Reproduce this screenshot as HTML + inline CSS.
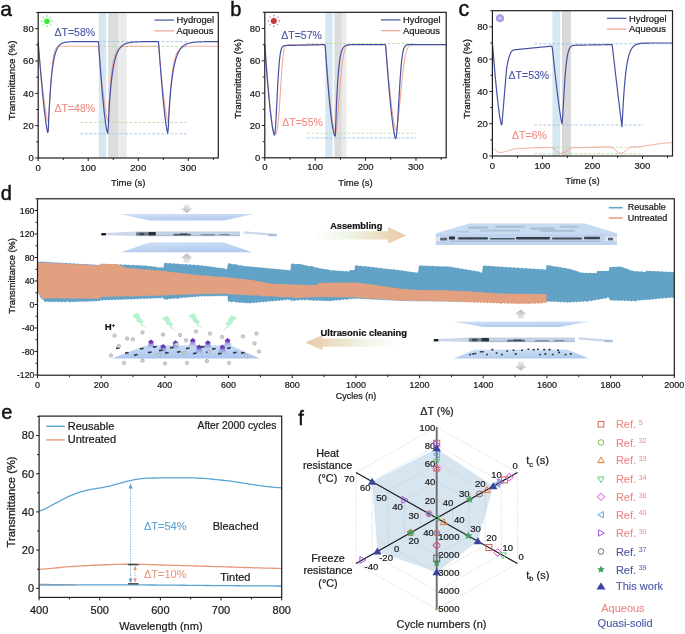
<!DOCTYPE html>
<html><head><meta charset="utf-8"><style>
html,body{margin:0;padding:0;background:#fff;}
svg{display:block;font-family:"Liberation Sans",sans-serif;will-change:transform;}
</style></head><body>
<svg width="685" height="634" viewBox="0 0 685 634">
<rect x="98.73" y="12.5" width="7.5" height="145.5" fill="#d5e7f1" />
<rect x="108.24" y="12.5" width="10.01" height="145.5" fill="#dcdcdc" />
<rect x="118.24" y="12.5" width="8.5" height="145.5" fill="#ebebeb" />
<line x1="98.73" y1="41.6" x2="188.28" y2="41.6" stroke="#9cc4e8" stroke-width="0.9" stroke-dasharray="2.8,1.7"/>
<line x1="98.73" y1="46.45" x2="188.28" y2="46.45" stroke="#b9dca4" stroke-width="0.9" stroke-dasharray="2.8,1.7"/>
<line x1="80.22" y1="122.43" x2="188.28" y2="122.43" stroke="#b9dca4" stroke-width="0.9" stroke-dasharray="2.8,1.7"/>
<line x1="80.22" y1="133.75" x2="188.28" y2="133.75" stroke="#9cc4e8" stroke-width="0.9" stroke-dasharray="2.8,1.7"/>
<polyline points="38.2,45.32 38.7,50.77 39.2,56.1 39.7,61.3 40.2,66.36 40.7,71.3 41.2,76.09 41.7,80.73 42.2,85.22 42.7,89.55 43.2,93.71 43.7,97.7 44.2,101.49 44.7,105.07 45.2,108.44 45.7,111.57 46.2,114.42 46.7,116.97 47.21,119.15 47.71,120.85 48.21,121.4 48.71,117.56 49.21,111.14 49.71,103.4 50.21,95.16 50.71,87.05 51.21,79.48 51.71,72.72 52.21,66.9 52.71,62.03 53.21,58.09 53.71,54.96 54.21,52.55 54.71,50.73 55.21,49.39 55.71,48.42 56.21,47.73 56.71,47.24 57.21,46.91 57.71,46.69 58.21,46.54 58.71,46.45 59.21,46.39 59.71,46.35 60.21,46.32 60.71,46.31 61.21,46.3 61.71,46.3 62.21,46.29 62.71,46.29 63.21,46.29 63.71,46.29 64.21,46.29 64.71,46.29 65.22,46.29 65.72,46.29 66.22,46.29 66.72,46.29 67.22,46.29 67.72,46.29 68.22,46.29 68.72,46.29 69.22,46.29 69.72,46.29 70.22,46.29 70.72,46.29 71.22,46.29 71.72,46.29 72.22,46.29 72.72,46.29 73.22,46.29 73.72,46.29 74.22,46.29 74.72,46.29 75.22,46.29 75.72,46.29 76.22,46.29 76.72,46.29 77.22,46.29 77.72,46.29 78.22,46.29 78.72,46.29 79.22,46.29 79.72,46.29 80.22,46.29 80.72,46.29 81.22,46.29 81.72,46.29 82.22,46.29 82.72,46.29 83.23,46.29 83.73,46.29 84.23,46.29 84.73,46.29 85.23,46.29 85.73,46.29 86.23,46.29 86.73,46.29 87.23,46.29 87.73,46.29 88.23,46.29 88.73,46.29 89.23,46.29 89.73,46.29 90.23,46.29 90.73,46.29 91.23,46.29 91.73,46.29 92.23,46.29 92.73,46.29 93.23,46.29 93.73,46.29 94.23,46.29 94.73,46.29 95.23,46.29 95.73,46.29 96.23,46.29 96.73,46.29 97.23,46.29 97.73,46.29 98.23,46.29 98.73,48.55 99.23,54.1 99.73,59.52 100.23,64.8 100.73,69.93 101.24,74.92 101.74,79.75 102.24,84.42 102.74,88.92 103.24,93.24 103.74,97.37 104.24,101.3 104.74,105.02 105.24,108.49 105.74,111.71 106.24,114.64 106.74,117.24 107.24,119.44 107.74,121.09 108.24,118.36 108.74,109.48 109.24,101.1 109.74,93.54 110.24,86.84 110.74,80.96 111.24,75.85 111.74,71.43 112.24,67.62 112.74,64.36 113.24,61.56 113.74,59.18 114.24,57.15 114.74,55.43 115.24,53.97 115.74,52.74 116.24,51.7 116.74,50.82 117.24,50.08 117.74,49.46 118.24,48.94 118.74,48.5 119.25,48.13 119.75,47.82 120.25,47.57 120.75,47.35 121.25,47.17 121.75,47.02 122.25,46.9 122.75,46.79 123.25,46.71 123.75,46.64 124.25,46.58 124.75,46.53 125.25,46.48 125.75,46.45 126.25,46.42 126.75,46.4 127.25,46.38 127.75,46.36 128.25,46.35 128.75,46.34 129.25,46.33 129.75,46.32 130.25,46.32 130.75,46.31 131.25,46.31 131.75,46.3 132.25,46.3 132.75,46.3 133.25,46.3 133.75,46.3 134.25,46.29 134.75,46.29 135.25,46.29 135.75,46.29 136.25,46.29 136.75,46.29 137.25,46.29 137.76,46.29 138.26,46.29 138.76,46.29 139.26,46.29 139.76,46.29 140.26,46.29 140.76,46.29 141.26,46.29 141.76,46.29 142.26,46.29 142.76,46.29 143.26,46.29 143.76,46.29 144.26,46.29 144.76,46.29 145.26,46.29 145.76,46.29 146.26,46.29 146.76,46.29 147.26,46.29 147.76,46.29 148.26,46.29 148.76,46.29 149.26,46.29 149.76,46.29 150.26,46.29 150.76,46.29 151.26,46.29 151.76,46.29 152.26,46.29 152.76,46.29 153.26,46.29 153.76,46.29 154.26,46.29 154.76,46.29 155.27,46.29 155.77,46.29 156.27,46.29 156.77,46.29 157.27,46.29 157.77,46.29 158.27,46.29 158.77,48.55 159.27,54.1 159.77,59.52 160.27,64.8 160.77,69.93 161.27,74.92 161.77,79.75 162.27,84.42 162.77,88.92 163.27,93.24 163.77,97.37 164.27,101.3 164.77,105.02 165.27,108.49 165.77,111.71 166.27,114.64 166.77,117.24 167.27,119.44 167.77,121.09 168.27,119.19 168.77,111.97 169.27,104.76 169.77,97.96 170.27,91.72 170.77,86.06 171.27,80.98 171.77,76.46 172.27,72.46 172.77,68.94 173.28,65.85 173.78,63.14 174.28,60.78 174.78,58.74 175.28,56.96 175.78,55.42 176.28,54.1 176.78,52.95 177.28,51.97 177.78,51.13 178.28,50.4 178.78,49.79 179.28,49.26 179.78,48.8 180.28,48.42 180.78,48.09 181.28,47.81 181.78,47.58 182.28,47.37 182.78,47.2 183.28,47.06 183.78,46.94 184.28,46.83 184.78,46.75 185.28,46.67 185.78,46.61 186.28,46.56 186.78,46.52 187.28,46.48 187.78,46.45 188.28,46.42 188.78,46.4 189.28,46.38 189.78,46.37 190.28,46.35 190.78,46.34 191.29,46.33 191.79,46.33 192.29,46.32 192.79,46.31 193.29,46.31 193.79,46.31 194.29,46.3 194.79,46.3 195.29,46.3 195.79,46.3 196.29,46.3 196.79,46.29 197.29,46.29 197.79,46.29 198.29,46.29 198.79,46.29 199.29,46.29 199.79,46.29 200.29,46.29 200.79,46.29 201.29,46.29 201.79,46.29 202.29,46.29 202.79,46.29 203.29,46.29 203.79,46.29 204.29,46.29 204.79,46.29 205.29,46.29 205.79,46.29 206.29,46.29 206.79,46.29 207.29,46.29 207.79,46.29 208.29,46.29 208.79,46.29 209.3,46.29 209.8,46.29 210.3,46.29 210.8,46.29 211.3,46.29 211.8,46.29 212.3,46.29 212.8,46.29 213.3,46.29 213.8,46.29 214.3,46.29 214.8,46.29 215.3,46.29 215.8,46.29 216.3,46.29 216.8,46.29 217.3,46.29 217.8,46.29 218.3,46.29" fill="none" stroke="#f2a08e" stroke-width="1.0" stroke-linejoin="round" />
<polyline points="38.2,41.92 38.7,48.35 39.2,54.64 39.7,60.79 40.2,66.8 40.7,72.66 41.2,78.36 41.7,83.89 42.2,89.26 42.7,94.45 43.2,99.45 43.7,104.24 44.2,108.83 44.7,113.18 45.2,117.29 45.7,121.12 46.2,124.64 46.7,127.81 47.21,130.55 47.71,132.72 48.21,131.15 48.71,119.23 49.21,108.9 49.71,99.94 50.21,92.17 50.71,85.44 51.21,79.6 51.71,74.55 52.21,70.16 52.71,66.36 53.21,63.06 53.71,60.2 54.21,57.73 54.71,55.58 55.21,53.72 55.71,52.11 56.21,50.71 56.71,49.5 57.21,48.44 57.71,47.53 58.21,46.74 58.71,46.06 59.21,45.47 59.71,44.95 60.21,44.5 60.71,44.12 61.21,43.78 61.71,43.49 62.21,43.24 62.71,43.02 63.21,42.83 63.71,42.67 64.21,42.53 64.71,42.4 65.22,42.3 65.72,42.2 66.22,42.12 66.72,42.05 67.22,41.99 67.72,41.94 68.22,41.9 68.72,41.86 69.22,41.82 69.72,41.79 70.22,41.77 70.72,41.74 71.22,41.73 71.72,41.71 72.22,41.69 72.72,41.68 73.22,41.67 73.72,41.66 74.22,41.65 74.72,41.65 75.22,41.64 75.72,41.63 76.22,41.63 76.72,41.63 77.22,41.62 77.72,41.62 78.22,41.62 78.72,41.61 79.22,41.61 79.72,41.61 80.22,41.61 80.72,41.61 81.22,41.61 81.72,41.61 82.22,41.61 82.72,41.6 83.23,41.6 83.73,41.6 84.23,41.6 84.73,41.6 85.23,41.6 85.73,41.6 86.23,41.6 86.73,41.6 87.23,41.6 87.73,41.6 88.23,41.6 88.73,41.6 89.23,41.6 89.73,41.6 90.23,41.6 90.73,41.6 91.23,41.6 91.73,41.6 92.23,41.6 92.73,41.6 93.23,41.6 93.73,41.6 94.23,41.6 94.73,41.6 95.23,41.6 95.73,41.6 96.23,41.6 96.73,41.6 97.23,41.6 97.73,41.6 98.23,41.6 98.73,44.68 99.23,52.22 99.73,59.51 100.23,66.53 100.73,73.29 101.24,79.78 101.74,85.99 102.24,91.91 102.74,97.53 103.24,102.84 103.74,107.83 104.24,112.48 104.74,116.78 105.24,120.7 105.74,124.22 106.24,127.31 106.74,129.93 107.24,131.99 107.74,133.38 108.24,127.74 108.74,116.42 109.24,107.3 109.74,99.6 110.24,92.99 110.74,87.27 111.24,82.26 111.74,77.88 112.24,74.01 112.74,70.6 113.24,67.57 113.74,64.89 114.24,62.5 114.74,60.38 115.24,58.48 115.74,56.79 116.24,55.27 116.74,53.92 117.24,52.7 117.74,51.61 118.24,50.64 118.74,49.76 119.25,48.97 119.75,48.26 120.25,47.62 120.75,47.05 121.25,46.53 121.75,46.06 122.25,45.64 122.75,45.26 123.25,44.91 123.75,44.6 124.25,44.32 124.75,44.07 125.25,43.84 125.75,43.63 126.25,43.45 126.75,43.28 127.25,43.12 127.75,42.98 128.25,42.86 128.75,42.74 129.25,42.64 129.75,42.54 130.25,42.46 130.75,42.38 131.25,42.31 131.75,42.25 132.25,42.19 132.75,42.14 133.25,42.09 133.75,42.04 134.25,42 134.75,41.97 135.25,41.94 135.75,41.91 136.25,41.88 136.75,41.85 137.25,41.83 137.76,41.81 138.26,41.79 138.76,41.78 139.26,41.76 139.76,41.75 140.26,41.73 140.76,41.72 141.26,41.71 141.76,41.7 142.26,41.69 142.76,41.68 143.26,41.68 143.76,41.67 144.26,41.66 144.76,41.66 145.26,41.65 145.76,41.65 146.26,41.65 146.76,41.64 147.26,41.64 147.76,41.63 148.26,41.63 148.76,41.63 149.26,41.63 149.76,41.62 150.26,41.62 150.76,41.62 151.26,41.62 151.76,41.62 152.26,41.62 152.76,41.61 153.26,41.61 153.76,41.61 154.26,41.61 154.76,41.61 155.27,41.61 155.77,41.61 156.27,41.61 156.77,41.61 157.27,41.61 157.77,41.61 158.27,41.61 158.77,44.49 159.27,51.6 159.77,58.5 160.27,65.19 160.77,71.68 161.27,77.94 161.77,83.99 162.27,89.79 162.77,95.35 163.27,100.65 163.77,105.69 164.27,110.44 164.77,114.88 165.27,119 165.77,122.77 166.27,126.15 166.77,129.09 167.27,131.5 167.77,133.23 168.27,128.22 168.77,117.71 169.27,109.15 169.77,101.85 170.27,95.52 170.77,89.98 171.27,85.09 171.77,80.77 172.27,76.92 172.77,73.49 173.28,70.42 173.78,67.68 174.28,65.21 174.78,63 175.28,61.01 175.78,59.21 176.28,57.59 176.78,56.13 177.28,54.81 177.78,53.62 178.28,52.54 178.78,51.56 179.28,50.67 179.78,49.87 180.28,49.13 180.78,48.47 181.28,47.87 181.78,47.32 182.28,46.82 182.78,46.37 183.28,45.96 183.78,45.58 184.28,45.24 184.78,44.93 185.28,44.64 185.78,44.38 186.28,44.15 186.78,43.93 187.28,43.73 187.78,43.55 188.28,43.39 188.78,43.24 189.28,43.1 189.78,42.98 190.28,42.86 190.78,42.76 191.29,42.66 191.79,42.57 192.29,42.49 192.79,42.42 193.29,42.35 193.79,42.29 194.29,42.23 194.79,42.18 195.29,42.13 195.79,42.09 196.29,42.05 196.79,42.01 197.29,41.98 197.79,41.95 198.29,41.92 198.79,41.89 199.29,41.87 199.79,41.85 200.29,41.83 200.79,41.81 201.29,41.79 201.79,41.78 202.29,41.76 202.79,41.75 203.29,41.74 203.79,41.73 204.29,41.72 204.79,41.71 205.29,41.7 205.79,41.69 206.29,41.68 206.79,41.68 207.29,41.67 207.79,41.67 208.29,41.66 208.79,41.66 209.3,41.65 209.8,41.65 210.3,41.64 210.8,41.64 211.3,41.64 211.8,41.63 212.3,41.63 212.8,41.63 213.3,41.63 213.8,41.62 214.3,41.62 214.8,41.62 215.3,41.62 215.8,41.62 216.3,41.62 216.8,41.62 217.3,41.61 217.8,41.61 218.3,41.61" fill="none" stroke="#4650a2" stroke-width="1.2" stroke-linejoin="round" />
<rect x="38.2" y="12.5" width="180.1" height="145.5" fill="none" stroke="#1f1f1f" stroke-width="1.2"/>
<line x1="35.2" y1="158" x2="38.2" y2="158" stroke="#1f1f1f" stroke-width="1" />
<text x="33.7" y="161.4" font-size="9.5" text-anchor="end" fill="#1a1a1a" stroke="#1a1a1a" stroke-width="0.22" >0</text>
<line x1="36.2" y1="141.83" x2="38.2" y2="141.83" stroke="#1f1f1f" stroke-width="1" />
<line x1="35.2" y1="125.67" x2="38.2" y2="125.67" stroke="#1f1f1f" stroke-width="1" />
<text x="33.7" y="129.07" font-size="9.5" text-anchor="end" fill="#1a1a1a" stroke="#1a1a1a" stroke-width="0.22" >20</text>
<line x1="36.2" y1="109.5" x2="38.2" y2="109.5" stroke="#1f1f1f" stroke-width="1" />
<line x1="35.2" y1="93.33" x2="38.2" y2="93.33" stroke="#1f1f1f" stroke-width="1" />
<text x="33.7" y="96.73" font-size="9.5" text-anchor="end" fill="#1a1a1a" stroke="#1a1a1a" stroke-width="0.22" >40</text>
<line x1="36.2" y1="77.17" x2="38.2" y2="77.17" stroke="#1f1f1f" stroke-width="1" />
<line x1="35.2" y1="61" x2="38.2" y2="61" stroke="#1f1f1f" stroke-width="1" />
<text x="33.7" y="64.4" font-size="9.5" text-anchor="end" fill="#1a1a1a" stroke="#1a1a1a" stroke-width="0.22" >60</text>
<line x1="36.2" y1="44.83" x2="38.2" y2="44.83" stroke="#1f1f1f" stroke-width="1" />
<line x1="35.2" y1="28.67" x2="38.2" y2="28.67" stroke="#1f1f1f" stroke-width="1" />
<text x="33.7" y="32.07" font-size="9.5" text-anchor="end" fill="#1a1a1a" stroke="#1a1a1a" stroke-width="0.22" >80</text>
<line x1="36.2" y1="12.5" x2="38.2" y2="12.5" stroke="#1f1f1f" stroke-width="1" />
<line x1="38.2" y1="158" x2="38.2" y2="161" stroke="#1f1f1f" stroke-width="1" />
<text x="38.2" y="170.6" font-size="9.5" text-anchor="middle" fill="#1a1a1a" stroke="#1a1a1a" stroke-width="0.22" >0</text>
<line x1="63.21" y1="158" x2="63.21" y2="160" stroke="#1f1f1f" stroke-width="1" />
<line x1="88.23" y1="158" x2="88.23" y2="161" stroke="#1f1f1f" stroke-width="1" />
<text x="88.23" y="170.6" font-size="9.5" text-anchor="middle" fill="#1a1a1a" stroke="#1a1a1a" stroke-width="0.22" >100</text>
<line x1="113.24" y1="158" x2="113.24" y2="160" stroke="#1f1f1f" stroke-width="1" />
<line x1="138.26" y1="158" x2="138.26" y2="161" stroke="#1f1f1f" stroke-width="1" />
<text x="138.26" y="170.6" font-size="9.5" text-anchor="middle" fill="#1a1a1a" stroke="#1a1a1a" stroke-width="0.22" >200</text>
<line x1="163.27" y1="158" x2="163.27" y2="160" stroke="#1f1f1f" stroke-width="1" />
<line x1="188.28" y1="158" x2="188.28" y2="161" stroke="#1f1f1f" stroke-width="1" />
<text x="188.28" y="170.6" font-size="9.5" text-anchor="middle" fill="#1a1a1a" stroke="#1a1a1a" stroke-width="0.22" >300</text>
<line x1="213.3" y1="158" x2="213.3" y2="160" stroke="#1f1f1f" stroke-width="1" />
<text x="128.25" y="185.7" font-size="9.5" text-anchor="middle" fill="#1a1a1a" stroke="#1a1a1a" stroke-width="0.22" >Time (s)</text>
<text transform="translate(14.7,80.4) rotate(-90)" font-size="9.8" text-anchor="middle" fill="#1f1f1f" stroke="#1f1f1f" stroke-width="0.3">Transmittance (%)</text>
<line x1="154.5" y1="20.1" x2="174" y2="20.1" stroke="#4650a2" stroke-width="1.2" />
<line x1="154.5" y1="30.9" x2="174" y2="30.9" stroke="#f2a08e" stroke-width="1.2" />
<text x="176.5" y="23.3" font-size="9.4" fill="#1a1a1a" stroke="#1a1a1a" stroke-width="0.22" >Hydrogel</text>
<text x="176.5" y="33.7" font-size="9.4" fill="#1a1a1a" stroke="#1a1a1a" stroke-width="0.22" >Aqueous</text>
<text x="54.5" y="36" font-size="10.5" fill="#4650a2" stroke="#4650a2" stroke-width="0.1" >ΔT=58%</text>
<text x="54.5" y="111.8" font-size="10.5" fill="#ee8c80" stroke="#ee8c80" stroke-width="0.1" >ΔT=48%</text>
<rect x="325.27" y="12.3" width="7.31" height="145.5" fill="#d5e7f1" />
<rect x="334.34" y="12.3" width="7.56" height="145.5" fill="#dcdcdc" />
<rect x="341.89" y="12.3" width="4.54" height="145.5" fill="#ebebeb" />
<line x1="307.13" y1="43.5" x2="415.97" y2="43.5" stroke="#b9dca4" stroke-width="0.9" stroke-dasharray="2.8,1.7"/>
<line x1="307.13" y1="133.23" x2="415.97" y2="133.23" stroke="#b9dca4" stroke-width="0.9" stroke-dasharray="2.8,1.7"/>
<line x1="307.13" y1="137.92" x2="415.97" y2="137.92" stroke="#9cc4e8" stroke-width="0.9" stroke-dasharray="2.8,1.7"/>
<polyline points="264.8,44.63 265.3,51.36 265.81,57.91 266.31,64.29 266.82,70.48 267.32,76.48 267.82,82.29 268.33,87.9 268.83,93.29 269.34,98.46 269.84,103.41 270.34,108.1 270.85,112.54 271.35,116.71 271.85,120.57 272.36,124.12 272.86,127.3 273.37,130.07 273.87,132.34 274.37,133.96 274.88,134.35 275.38,134.25 275.89,133.86 276.39,132.94 276.89,131.29 277.4,128.73 277.9,125.12 278.41,120.38 278.91,114.54 279.41,107.71 279.92,100.12 280.42,92.08 280.92,83.95 281.43,76.11 281.93,68.91 282.44,62.62 282.94,57.39 283.44,53.26 283.95,50.19 284.45,48.03 284.96,46.59 285.46,45.7 285.96,45.18 286.47,44.89 286.97,44.75 287.48,44.68 287.98,44.65 288.48,44.64 288.99,44.64 289.49,44.63 289.99,44.63 290.5,44.63 291,44.63 291.51,44.63 292.01,44.63 292.51,44.63 293.02,44.63 293.52,44.63 294.03,44.63 294.53,44.63 295.03,44.63 295.54,44.63 296.04,44.63 296.55,44.63 297.05,44.63 297.55,44.63 298.06,44.63 298.56,44.63 299.06,44.63 299.57,44.63 300.07,44.63 300.58,44.63 301.08,44.63 301.58,44.63 302.09,44.63 302.59,44.63 303.1,44.63 303.6,44.63 304.1,44.63 304.61,44.63 305.11,44.63 305.62,44.63 306.12,44.63 306.62,44.63 307.13,44.63 307.63,44.63 308.13,44.63 308.64,44.63 309.14,44.63 309.65,44.63 310.15,44.63 310.65,44.63 311.16,44.63 311.66,44.63 312.17,44.63 312.67,44.63 313.17,44.63 313.68,44.63 314.18,44.63 314.69,44.63 315.19,44.63 315.69,44.63 316.2,44.63 316.7,44.63 317.2,44.63 317.71,44.63 318.21,44.63 318.72,44.63 319.22,44.63 319.72,44.63 320.23,44.63 320.73,44.63 321.24,44.63 321.74,44.63 322.24,44.63 322.75,44.63 323.25,44.63 323.75,44.63 324.26,44.63 324.76,44.63 325.27,45.96 325.77,52.5 326.27,58.88 326.78,65.07 327.28,71.09 327.79,76.92 328.29,82.55 328.79,87.99 329.3,93.22 329.8,98.24 330.31,103.03 330.81,107.58 331.31,111.88 331.82,115.92 332.32,119.68 332.82,123.13 333.33,126.25 333.83,128.98 334.34,131.28 334.84,133.03 335.34,133.86 335.85,132.63 336.35,129.8 336.86,125.67 337.36,120.51 337.86,114.59 338.37,108.17 338.87,101.5 339.38,94.82 339.88,88.3 340.38,82.1 340.89,76.35 341.39,71.13 341.89,66.47 342.4,62.4 342.9,58.9 343.41,55.94 343.91,53.48 344.41,51.47 344.92,49.85 345.42,48.57 345.93,47.56 346.43,46.79 346.93,46.2 347.44,45.76 347.94,45.43 348.45,45.19 348.95,45.02 349.45,44.9 349.96,44.81 350.46,44.75 350.97,44.71 351.47,44.68 351.97,44.67 352.48,44.65 352.98,44.65 353.48,44.64 353.99,44.64 354.49,44.64 355,44.64 355.5,44.63 356,44.63 356.51,44.63 357.01,44.63 357.52,44.63 358.02,44.63 358.52,44.63 359.03,44.63 359.53,44.63 360.03,44.63 360.54,44.63 361.04,44.63 361.55,44.63 362.05,44.63 362.55,44.63 363.06,44.63 363.56,44.63 364.07,44.63 364.57,44.63 365.07,44.63 365.58,44.63 366.08,44.63 366.59,44.63 367.09,44.63 367.59,44.63 368.1,44.63 368.6,44.63 369.11,44.63 369.61,44.63 370.11,44.63 370.62,44.63 371.12,44.63 371.62,44.63 372.13,44.63 372.63,44.63 373.14,44.63 373.64,44.63 374.14,44.63 374.65,44.63 375.15,44.63 375.66,44.63 376.16,44.63 376.66,44.63 377.17,44.63 377.67,44.63 378.18,44.63 378.68,44.63 379.18,44.63 379.69,44.63 380.19,44.63 380.69,44.63 381.2,44.63 381.7,44.63 382.21,44.63 382.71,44.63 383.21,44.63 383.72,44.63 384.22,44.63 384.73,44.63 385.23,44.63 385.73,46.42 386.24,52.29 386.74,58.04 387.25,63.66 387.75,69.15 388.25,74.5 388.76,79.7 389.26,84.76 389.76,89.67 390.27,94.41 390.77,98.97 391.28,103.36 391.78,107.55 392.28,111.53 392.79,115.28 393.29,118.78 393.8,122 394.3,124.89 394.8,127.39 395.31,129.38 395.81,130.29 396.31,129.57 396.82,127.88 397.32,125.29 397.83,121.91 398.33,117.85 398.83,113.23 399.34,108.2 399.84,102.9 400.35,97.45 400.85,91.99 401.35,86.64 401.86,81.49 402.36,76.62 402.87,72.1 403.37,67.96 403.87,64.24 404.38,60.93 404.88,58.04 405.38,55.54 405.89,53.41 406.39,51.63 406.9,50.15 407.4,48.93 407.9,47.95 408.41,47.16 408.91,46.55 409.42,46.06 409.92,45.69 410.42,45.41 410.93,45.19 411.43,45.03 411.94,44.92 412.44,44.83 412.94,44.77 413.45,44.73 413.95,44.7 414.45,44.68 414.96,44.66 415.46,44.65 415.97,44.65 416.47,44.64 416.97,44.64 417.48,44.64 417.98,44.64 418.49,44.63 418.99,44.63 419.49,44.63 420,44.63 420.5,44.63 421.01,44.63 421.51,44.63 422.01,44.63 422.52,44.63 423.02,44.63 423.52,44.63 424.03,44.63 424.53,44.63 425.04,44.63 425.54,44.63 426.04,44.63 426.55,44.63 427.05,44.63 427.56,44.63 428.06,44.63 428.56,44.63 429.07,44.63 429.57,44.63 430.08,44.63 430.58,44.63 431.08,44.63 431.59,44.63 432.09,44.63 432.6,44.63 433.1,44.63 433.6,44.63 434.11,44.63 434.61,44.63 435.11,44.63 435.62,44.63 436.12,44.63 436.63,44.63 437.13,44.63 437.63,44.63 438.14,44.63 438.64,44.63 439.15,44.63 439.65,44.63 440.15,44.63 440.66,44.63 441.16,44.63 441.66,44.63 442.17,44.63 442.67,44.63 443.18,44.63 443.68,44.63 444.18,44.63 444.69,44.63 445.19,44.63 445.7,44.63 446.2,44.63" fill="none" stroke="#f2a08e" stroke-width="1.0" stroke-linejoin="round" />
<polyline points="264.8,44.8 265.3,52.09 265.81,59.17 266.31,66 266.82,72.6 267.32,78.96 267.82,85.06 268.33,90.9 268.83,96.47 269.34,101.76 269.84,106.76 270.34,111.46 270.85,115.84 271.35,119.89 271.85,123.58 272.36,126.89 272.86,129.77 273.37,132.19 273.87,134.05 274.37,135.2 274.88,134.08 275.38,129.1 275.89,121.41 276.39,112.01 276.89,101.83 277.4,91.68 277.9,82.18 278.41,73.75 278.91,66.63 279.41,60.84 279.92,56.34 280.42,52.95 280.92,50.48 281.43,48.75 281.93,47.58 282.44,46.8 282.94,46.3 283.44,45.98 283.95,45.79 284.45,45.67 284.96,45.6 285.46,45.56 285.96,45.53 286.47,45.51 286.97,45.49 287.48,45.48 287.98,45.47 288.48,45.45 288.99,45.44 289.49,45.43 289.99,45.42 290.5,45.41 291,45.4 291.51,45.39 292.01,45.38 292.51,45.36 293.02,45.35 293.52,45.34 294.03,45.33 294.53,45.32 295.03,45.31 295.54,45.3 296.04,45.29 296.55,45.27 297.05,45.26 297.55,45.25 298.06,45.24 298.56,45.23 299.06,45.22 299.57,45.21 300.07,45.2 300.58,45.18 301.08,45.17 301.58,45.16 302.09,45.15 302.59,45.14 303.1,45.13 303.6,45.12 304.1,45.11 304.61,45.09 305.11,45.08 305.62,45.07 306.12,45.06 306.62,45.05 307.13,45.04 307.63,45.03 308.13,45.02 308.64,45 309.14,44.99 309.65,44.98 310.15,44.97 310.65,44.96 311.16,44.95 311.66,44.94 312.17,44.93 312.67,44.91 313.17,44.9 313.68,44.89 314.18,44.88 314.69,44.87 315.19,44.86 315.69,44.85 316.2,44.84 316.7,44.82 317.2,44.81 317.71,44.8 318.21,44.79 318.72,44.78 319.22,44.77 319.72,44.76 320.23,44.75 320.73,44.73 321.24,44.72 321.74,44.71 322.24,44.7 322.75,44.69 323.25,44.68 323.75,44.67 324.26,44.66 324.76,44.64 325.27,46.21 325.77,53.93 326.27,61.35 326.78,68.47 327.28,75.3 327.79,81.82 328.29,88.02 328.79,93.91 329.3,99.48 329.8,104.71 330.31,109.6 330.81,114.15 331.31,118.34 331.82,122.15 332.32,125.59 332.82,128.62 333.33,131.23 333.83,133.39 334.34,135.07 334.84,136.2 335.34,135.44 335.85,121.38 336.35,108.25 336.86,96.86 337.36,87.23 337.86,79.2 338.37,72.56 338.87,67.12 339.38,62.69 339.88,59.09 340.38,56.18 340.89,53.83 341.39,51.95 341.89,50.44 342.4,49.23 342.9,48.27 343.41,47.51 343.91,46.9 344.41,46.42 344.92,46.04 345.42,45.73 345.93,45.5 346.43,45.31 346.93,45.16 347.44,45.05 347.94,44.96 348.45,44.89 348.95,44.83 349.45,44.79 349.96,44.75 350.46,44.73 350.97,44.71 351.47,44.69 351.97,44.68 352.48,44.67 352.98,44.66 353.48,44.65 353.99,44.65 354.49,44.65 355,44.64 355.5,44.64 356,44.64 356.51,44.64 357.01,44.64 357.52,44.64 358.02,44.64 358.52,44.63 359.03,44.63 359.53,44.63 360.03,44.63 360.54,44.63 361.04,44.63 361.55,44.63 362.05,44.63 362.55,44.63 363.06,44.63 363.56,44.63 364.07,44.63 364.57,44.63 365.07,44.63 365.58,44.63 366.08,44.63 366.59,44.63 367.09,44.63 367.59,44.63 368.1,44.63 368.6,44.63 369.11,44.63 369.61,44.63 370.11,44.63 370.62,44.63 371.12,44.63 371.62,44.63 372.13,44.63 372.63,44.63 373.14,44.63 373.64,44.63 374.14,44.63 374.65,44.63 375.15,44.63 375.66,44.63 376.16,44.63 376.66,44.63 377.17,44.63 377.67,44.63 378.18,44.63 378.68,44.63 379.18,44.63 379.69,44.63 380.19,44.63 380.69,44.63 381.2,44.63 381.7,44.63 382.21,44.63 382.71,44.63 383.21,44.63 383.72,44.63 384.22,44.63 384.73,44.63 385.23,44.63 385.73,46.73 386.24,53.61 386.74,60.31 387.25,66.83 387.75,73.15 388.25,79.27 388.76,85.2 389.26,90.91 389.76,96.4 390.27,101.67 390.77,106.69 391.28,111.47 391.78,115.98 392.28,120.21 392.79,124.14 393.29,127.74 393.8,130.99 394.3,133.83 394.8,136.2 395.31,137.98 395.81,138.65 396.31,136.61 396.82,132.21 397.32,125.92 397.83,118.26 398.33,109.75 398.83,100.9 399.34,92.16 399.84,83.88 400.35,76.33 400.85,69.67 401.35,63.99 401.86,59.28 402.36,55.48 402.87,52.5 403.37,50.21 403.87,48.51 404.38,47.28 404.88,46.4 405.38,45.78 405.89,45.37 406.39,45.1 406.9,44.92 407.4,44.8 407.9,44.73 408.41,44.69 408.91,44.67 409.42,44.65 409.92,44.64 410.42,44.64 410.93,44.64 411.43,44.63 411.94,44.63 412.44,44.63 412.94,44.63 413.45,44.63 413.95,44.63 414.45,44.63 414.96,44.63 415.46,44.63 415.97,44.63 416.47,44.63 416.97,44.63 417.48,44.63 417.98,44.63 418.49,44.63 418.99,44.63 419.49,44.63 420,44.63 420.5,44.63 421.01,44.63 421.51,44.63 422.01,44.63 422.52,44.63 423.02,44.63 423.52,44.63 424.03,44.63 424.53,44.63 425.04,44.63 425.54,44.63 426.04,44.63 426.55,44.63 427.05,44.63 427.56,44.63 428.06,44.63 428.56,44.63 429.07,44.63 429.57,44.63 430.08,44.63 430.58,44.63 431.08,44.63 431.59,44.63 432.09,44.63 432.6,44.63 433.1,44.63 433.6,44.63 434.11,44.63 434.61,44.63 435.11,44.63 435.62,44.63 436.12,44.63 436.63,44.63 437.13,44.63 437.63,44.63 438.14,44.63 438.64,44.63 439.15,44.63 439.65,44.63 440.15,44.63 440.66,44.63 441.16,44.63 441.66,44.63 442.17,44.63 442.67,44.63 443.18,44.63 443.68,44.63 444.18,44.63 444.69,44.63 445.19,44.63 445.7,44.63 446.2,44.63" fill="none" stroke="#4650a2" stroke-width="1.2" stroke-linejoin="round" />
<rect x="264.8" y="12.3" width="181.4" height="145.5" fill="none" stroke="#1f1f1f" stroke-width="1.2"/>
<line x1="261.8" y1="157.8" x2="264.8" y2="157.8" stroke="#1f1f1f" stroke-width="1" />
<text x="260.3" y="161.2" font-size="9.5" text-anchor="end" fill="#1a1a1a" stroke="#1a1a1a" stroke-width="0.22" >0</text>
<line x1="262.8" y1="141.63" x2="264.8" y2="141.63" stroke="#1f1f1f" stroke-width="1" />
<line x1="261.8" y1="125.47" x2="264.8" y2="125.47" stroke="#1f1f1f" stroke-width="1" />
<text x="260.3" y="128.87" font-size="9.5" text-anchor="end" fill="#1a1a1a" stroke="#1a1a1a" stroke-width="0.22" >20</text>
<line x1="262.8" y1="109.3" x2="264.8" y2="109.3" stroke="#1f1f1f" stroke-width="1" />
<line x1="261.8" y1="93.13" x2="264.8" y2="93.13" stroke="#1f1f1f" stroke-width="1" />
<text x="260.3" y="96.53" font-size="9.5" text-anchor="end" fill="#1a1a1a" stroke="#1a1a1a" stroke-width="0.22" >40</text>
<line x1="262.8" y1="76.97" x2="264.8" y2="76.97" stroke="#1f1f1f" stroke-width="1" />
<line x1="261.8" y1="60.8" x2="264.8" y2="60.8" stroke="#1f1f1f" stroke-width="1" />
<text x="260.3" y="64.2" font-size="9.5" text-anchor="end" fill="#1a1a1a" stroke="#1a1a1a" stroke-width="0.22" >60</text>
<line x1="262.8" y1="44.63" x2="264.8" y2="44.63" stroke="#1f1f1f" stroke-width="1" />
<line x1="261.8" y1="28.47" x2="264.8" y2="28.47" stroke="#1f1f1f" stroke-width="1" />
<text x="260.3" y="31.87" font-size="9.5" text-anchor="end" fill="#1a1a1a" stroke="#1a1a1a" stroke-width="0.22" >80</text>
<line x1="262.8" y1="12.3" x2="264.8" y2="12.3" stroke="#1f1f1f" stroke-width="1" />
<line x1="264.8" y1="157.8" x2="264.8" y2="160.8" stroke="#1f1f1f" stroke-width="1" />
<text x="264.8" y="170.4" font-size="9.5" text-anchor="middle" fill="#1a1a1a" stroke="#1a1a1a" stroke-width="0.22" >0</text>
<line x1="289.99" y1="157.8" x2="289.99" y2="159.8" stroke="#1f1f1f" stroke-width="1" />
<line x1="315.19" y1="157.8" x2="315.19" y2="160.8" stroke="#1f1f1f" stroke-width="1" />
<text x="315.19" y="170.4" font-size="9.5" text-anchor="middle" fill="#1a1a1a" stroke="#1a1a1a" stroke-width="0.22" >100</text>
<line x1="340.38" y1="157.8" x2="340.38" y2="159.8" stroke="#1f1f1f" stroke-width="1" />
<line x1="365.58" y1="157.8" x2="365.58" y2="160.8" stroke="#1f1f1f" stroke-width="1" />
<text x="365.58" y="170.4" font-size="9.5" text-anchor="middle" fill="#1a1a1a" stroke="#1a1a1a" stroke-width="0.22" >200</text>
<line x1="390.77" y1="157.8" x2="390.77" y2="159.8" stroke="#1f1f1f" stroke-width="1" />
<line x1="415.97" y1="157.8" x2="415.97" y2="160.8" stroke="#1f1f1f" stroke-width="1" />
<text x="415.97" y="170.4" font-size="9.5" text-anchor="middle" fill="#1a1a1a" stroke="#1a1a1a" stroke-width="0.22" >300</text>
<line x1="441.16" y1="157.8" x2="441.16" y2="159.8" stroke="#1f1f1f" stroke-width="1" />
<text x="355.5" y="185.5" font-size="9.5" text-anchor="middle" fill="#1a1a1a" stroke="#1a1a1a" stroke-width="0.22" >Time (s)</text>
<text transform="translate(241.3,78.9) rotate(-90)" font-size="9.8" text-anchor="middle" fill="#1f1f1f" stroke="#1f1f1f" stroke-width="0.3">Transmittance (%)</text>
<line x1="381" y1="19.9" x2="400.5" y2="19.9" stroke="#4650a2" stroke-width="1.2" />
<line x1="381" y1="30.7" x2="400.5" y2="30.7" stroke="#f2a08e" stroke-width="1.2" />
<text x="403" y="23.1" font-size="9.4" fill="#1a1a1a" stroke="#1a1a1a" stroke-width="0.22" >Hydrogel</text>
<text x="403" y="33.5" font-size="9.4" fill="#1a1a1a" stroke="#1a1a1a" stroke-width="0.22" >Aqueous</text>
<text x="281.3" y="38.6" font-size="10.5" fill="#4650a2" stroke="#4650a2" stroke-width="0.1" >ΔT=57%</text>
<text x="282.3" y="126" font-size="10.5" fill="#ee8c80" stroke="#ee8c80" stroke-width="0.1" >ΔT=55%</text>
<rect x="552.43" y="10.7" width="7.75" height="145.3" fill="#d5e7f1" />
<rect x="561.94" y="10.7" width="9" height="145.3" fill="#d9d9d9" />
<line x1="534.42" y1="43.8" x2="672.5" y2="43.8" stroke="#9cc4e8" stroke-width="0.9" stroke-dasharray="2.8,1.7"/>
<line x1="534.42" y1="125" x2="642.98" y2="125" stroke="#9cc4e8" stroke-width="0.9" stroke-dasharray="2.8,1.7"/>
<line x1="534.42" y1="147.28" x2="642.98" y2="147.28" stroke="#b9dca4" stroke-width="0.9" stroke-dasharray="2.8,1.7"/>
<line x1="534.42" y1="153.74" x2="642.98" y2="153.74" stroke="#b9dca4" stroke-width="0.9" stroke-dasharray="2.8,1.7"/>
<polyline points="492.4,148.57 492.9,148.62 493.4,148.75 493.9,148.96 494.4,149.25 494.9,149.59 495.4,149.98 495.9,150.39 496.4,150.8 496.9,151.2 497.4,151.57 497.9,151.9 498.4,152.15 498.9,152.33 499.4,152.43 499.9,152.45 500.4,152.43 500.9,152.41 501.4,152.37 501.91,152.31 502.41,152.24 502.91,152.16 503.41,152.07 503.91,151.96 504.41,151.84 504.91,151.72 505.41,151.58 505.91,151.44 506.41,151.29 506.91,151.13 507.41,150.97 507.91,150.81 508.41,150.64 508.91,150.48 509.41,150.31 509.91,150.15 510.41,149.98 510.91,149.82 511.41,149.67 511.91,149.52 512.41,149.38 512.91,149.25 513.41,149.13 513.91,149.02 514.41,148.92 514.91,148.83 515.41,148.75 515.91,148.69 516.41,148.64 516.91,148.6 517.41,148.58 517.91,148.57 518.41,148.57 518.91,148.57 519.41,148.56 519.92,148.54 520.42,148.53 520.92,148.51 521.42,148.49 521.92,148.46 522.42,148.43 522.92,148.4 523.42,148.37 523.92,148.34 524.42,148.3 524.92,148.27 525.42,148.23 525.92,148.19 526.42,148.15 526.92,148.11 527.42,148.07 527.92,148.04 528.42,148 528.92,147.97 529.42,147.94 529.92,147.91 530.42,147.88 530.92,147.85 531.42,147.83 531.92,147.81 532.42,147.8 532.92,147.78 533.42,147.77 533.92,147.77 534.42,147.77 534.92,147.77 535.42,147.76 535.92,147.76 536.42,147.76 536.92,147.76 537.42,147.75 537.93,147.75 538.43,147.75 538.93,147.74 539.43,147.73 539.93,147.73 540.43,147.72 540.93,147.71 541.43,147.71 541.93,147.7 542.43,147.69 542.93,147.69 543.43,147.68 543.93,147.67 544.43,147.66 544.93,147.66 545.43,147.65 545.93,147.64 546.43,147.64 546.93,147.63 547.43,147.63 547.93,147.62 548.43,147.62 548.93,147.61 549.43,147.61 549.93,147.61 550.43,147.61 550.93,147.61 551.43,147.6 551.93,147.64 552.43,147.76 552.93,147.95 553.43,148.2 553.93,148.52 554.43,148.88 554.93,149.3 555.43,149.74 555.94,150.2 556.44,150.66 556.94,151.12 557.44,151.57 557.94,151.98 558.44,152.34 558.94,152.66 559.44,152.91 559.94,153.1 560.44,153.22 560.94,153.26 561.44,153.23 561.94,153.17 562.44,153.06 562.94,152.92 563.44,152.73 563.94,152.51 564.44,152.26 564.94,151.98 565.44,151.68 565.94,151.36 566.44,151.03 566.94,150.68 567.44,150.34 567.94,150 568.44,149.66 568.94,149.34 569.44,149.04 569.94,148.76 570.44,148.51 570.94,148.29 571.44,148.11 571.94,147.96 572.44,147.85 572.94,147.79 573.44,147.77 573.95,147.77 574.45,147.76 574.95,147.76 575.45,147.76 575.95,147.76 576.45,147.75 576.95,147.75 577.45,147.74 577.95,147.74 578.45,147.73 578.95,147.72 579.45,147.71 579.95,147.7 580.45,147.7 580.95,147.69 581.45,147.67 581.95,147.66 582.45,147.65 582.95,147.64 583.45,147.63 583.95,147.61 584.45,147.6 584.95,147.58 585.45,147.57 585.95,147.55 586.45,147.54 586.95,147.52 587.45,147.51 587.95,147.49 588.45,147.47 588.95,147.46 589.45,147.44 589.95,147.42 590.45,147.41 590.95,147.39 591.45,147.37 591.96,147.35 592.46,147.34 592.96,147.32 593.46,147.3 593.96,147.29 594.46,147.27 594.96,147.25 595.46,147.23 595.96,147.22 596.46,147.2 596.96,147.19 597.46,147.17 597.96,147.16 598.46,147.14 598.96,147.13 599.46,147.11 599.96,147.1 600.46,147.09 600.96,147.07 601.46,147.06 601.96,147.05 602.46,147.04 602.96,147.03 603.46,147.02 603.96,147.01 604.46,147 604.96,147 605.46,146.99 605.96,146.98 606.46,146.98 606.96,146.97 607.46,146.97 607.96,146.97 608.46,146.96 608.96,146.96 609.47,146.96 609.97,146.96 610.47,146.99 610.97,147.09 611.47,147.24 611.97,147.46 612.47,147.73 612.97,148.05 613.47,148.41 613.97,148.8 614.47,149.22 614.97,149.66 615.47,150.11 615.97,150.56 616.47,150.99 616.97,151.42 617.47,151.81 617.97,152.17 618.47,152.49 618.97,152.76 619.47,152.97 619.97,153.13 620.47,153.22 620.97,153.26 621.47,153.22 621.97,153.13 622.47,152.97 622.97,152.76 623.47,152.49 623.97,152.17 624.47,151.81 624.97,151.42 625.47,150.99 625.97,150.56 626.47,150.11 626.97,149.66 627.48,149.22 627.98,148.8 628.48,148.41 628.98,148.05 629.48,147.73 629.98,147.46 630.48,147.24 630.98,147.09 631.48,146.99 631.98,146.96 632.48,146.96 632.98,146.95 633.48,146.94 633.98,146.93 634.48,146.92 634.98,146.9 635.48,146.88 635.98,146.86 636.48,146.83 636.98,146.8 637.48,146.77 637.98,146.74 638.48,146.7 638.98,146.66 639.48,146.61 639.98,146.57 640.48,146.52 640.98,146.47 641.48,146.41 641.98,146.36 642.48,146.3 642.98,146.24 643.48,146.18 643.98,146.11 644.48,146.05 644.98,145.98 645.49,145.91 645.99,145.84 646.49,145.77 646.99,145.69 647.49,145.62 647.99,145.54 648.49,145.46 648.99,145.38 649.49,145.3 649.99,145.22 650.49,145.14 650.99,145.06 651.49,144.98 651.99,144.9 652.49,144.82 652.99,144.74 653.49,144.66 653.99,144.58 654.49,144.5 654.99,144.42 655.49,144.34 655.99,144.26 656.49,144.18 656.99,144.1 657.49,144.03 657.99,143.95 658.49,143.88 658.99,143.81 659.49,143.74 659.99,143.67 660.49,143.61 660.99,143.54 661.49,143.48 661.99,143.42 662.49,143.36 662.99,143.31 663.5,143.25 664,143.2 664.5,143.15 665,143.11 665.5,143.06 666,143.02 666.5,142.98 667,142.95 667.5,142.92 668,142.89 668.5,142.86 669,142.84 669.5,142.82 670,142.8 670.5,142.79 671,142.78 671.5,142.77 672,142.76 672.5,142.76" fill="none" stroke="#f2a08e" stroke-width="1.0" stroke-linejoin="round" />
<polyline points="492.4,42.18 492.9,48.58 493.4,54.82 493.9,60.89 494.4,66.79 494.9,72.5 495.4,78.03 495.9,83.36 496.4,88.49 496.9,93.41 497.4,98.09 497.9,102.54 498.4,106.74 498.9,110.66 499.4,114.28 499.9,117.56 500.4,120.47 500.9,122.93 501.4,124.82 501.91,124.45 502.41,118.46 502.91,112.48 503.41,106.49 503.91,100.5 504.41,94.52 504.91,88.53 505.41,82.54 505.91,76.56 506.41,70.57 506.91,66.49 507.41,63.91 507.91,61.59 508.41,59.52 508.91,57.69 509.41,56.08 509.91,54.7 510.41,53.52 510.91,52.53 511.41,51.72 511.91,51.08 512.41,50.58 512.91,50.22 513.41,49.98 513.91,49.84 514.41,49.78 514.91,49.77 515.41,49.72 515.91,49.67 516.41,49.62 516.91,49.57 517.41,49.52 517.91,49.47 518.41,49.42 518.91,49.37 519.41,49.32 519.92,49.27 520.42,49.22 520.92,49.17 521.42,49.12 521.92,49.07 522.42,49.02 522.92,48.97 523.42,48.92 523.92,48.87 524.42,48.82 524.92,48.77 525.42,48.72 525.92,48.67 526.42,48.62 526.92,48.57 527.42,48.52 527.92,48.47 528.42,48.42 528.92,48.37 529.42,48.32 529.92,48.27 530.42,48.22 530.92,48.17 531.42,48.12 531.92,48.07 532.42,48.02 532.92,47.97 533.42,47.92 533.92,47.87 534.42,47.82 534.92,47.77 535.42,47.72 535.92,47.67 536.42,47.62 536.92,47.57 537.42,47.52 537.93,47.47 538.43,47.42 538.93,47.37 539.43,47.32 539.93,47.27 540.43,47.22 540.93,47.17 541.43,47.12 541.93,47.07 542.43,47.02 542.93,46.97 543.43,46.92 543.93,46.87 544.43,46.82 544.93,46.78 545.43,46.73 545.93,46.68 546.43,46.63 546.93,46.58 547.43,46.53 547.93,46.48 548.43,46.43 548.93,46.38 549.43,46.33 549.93,46.28 550.43,46.23 550.93,46.18 551.43,46.13 551.93,46.08 552.43,48.95 552.93,53.73 553.43,58.45 553.93,63.11 554.43,67.7 554.93,72.23 555.43,76.68 555.94,81.05 556.44,85.34 556.94,89.55 557.44,93.66 557.94,97.67 558.44,101.56 558.94,105.34 559.44,108.98 559.94,112.46 560.44,115.75 560.94,118.81 561.44,121.55 561.94,123.76 562.44,119.96 562.94,112.03 563.44,103.21 563.94,94.46 564.44,86.27 564.94,78.9 565.44,72.47 565.94,66.99 566.44,62.41 566.94,58.65 567.44,55.6 567.94,53.17 568.44,51.26 568.94,49.77 569.44,48.62 569.94,47.74 570.44,47.07 570.94,46.58 571.44,46.2 571.94,45.93 572.44,45.73 572.94,45.58 573.44,45.47 573.95,45.39 574.45,45.33 574.95,45.28 575.45,45.25 575.95,45.22 576.45,45.2 576.95,45.19 577.45,45.17 577.95,45.16 578.45,45.15 578.95,45.14 579.45,45.13 579.95,45.12 580.45,45.12 580.95,45.11 581.45,45.1 581.95,45.09 582.45,45.08 582.95,45.07 583.45,45.07 583.95,45.06 584.45,45.05 584.95,45.04 585.45,45.03 585.95,45.03 586.45,45.02 586.95,45.01 587.45,45 587.95,44.99 588.45,44.99 588.95,44.98 589.45,44.97 589.95,44.96 590.45,44.95 590.95,44.94 591.45,44.94 591.96,44.93 592.46,44.92 592.96,44.91 593.46,44.9 593.96,44.9 594.46,44.89 594.96,44.88 595.46,44.87 595.96,44.86 596.46,44.86 596.96,44.85 597.46,44.84 597.96,44.83 598.46,44.82 598.96,44.82 599.46,44.81 599.96,44.8 600.46,44.79 600.96,44.78 601.46,44.78 601.96,44.77 602.46,44.76 602.96,44.75 603.46,44.74 603.96,44.74 604.46,44.73 604.96,44.72 605.46,44.71 605.96,44.7 606.46,44.7 606.96,44.69 607.46,44.68 607.96,44.67 608.46,44.66 608.96,44.65 609.47,44.65 609.97,44.64 610.47,44.63 610.97,44.62 611.47,44.61 611.97,44.61 612.47,47.23 612.97,51.6 613.47,55.96 613.97,60.31 614.47,64.64 614.97,68.96 615.47,73.26 615.97,77.55 616.47,81.82 616.97,86.07 617.47,90.3 617.97,94.51 618.47,98.69 618.97,102.84 619.47,106.96 619.97,111.04 620.47,115.07 620.97,119.03 621.47,122.91 621.97,126.6 622.47,118.28 622.97,108.39 623.47,99.8 623.97,92.34 624.47,85.85 624.97,80.22 625.47,75.33 625.97,71.08 626.47,67.39 626.97,64.18 627.48,61.4 627.98,58.98 628.48,56.88 628.98,55.06 629.48,53.47 629.98,52.09 630.48,50.9 630.98,49.86 631.48,48.96 631.98,48.17 632.48,47.49 632.98,46.9 633.48,46.39 633.98,45.94 634.48,45.55 634.98,45.22 635.48,44.92 635.98,44.67 636.48,44.45 636.98,44.26 637.48,44.09 637.98,43.95 638.48,43.82 638.98,43.71 639.48,43.62 639.98,43.53 640.48,43.46 640.98,43.4 641.48,43.35 641.98,43.3 642.48,43.26 642.98,43.22 643.48,43.19 643.98,43.17 644.48,43.14 644.98,43.12 645.49,43.1 645.99,43.09 646.49,43.08 646.99,43.06 647.49,43.05 647.99,43.05 648.49,43.04 648.99,43.03 649.49,43.03 649.99,43.02 650.49,43.02 650.99,43.01 651.49,43.01 651.99,43.01 652.49,43 652.99,43 653.49,43 653.99,43 654.49,43 654.99,43 655.49,43 655.99,42.99 656.49,42.99 656.99,42.99 657.49,42.99 657.99,42.99 658.49,42.99 658.99,42.99 659.49,42.99 659.99,42.99 660.49,42.99 660.99,42.99 661.49,42.99 661.99,42.99 662.49,42.99 662.99,42.99 663.5,42.99 664,42.99 664.5,42.99 665,42.99 665.5,42.99 666,42.99 666.5,42.99 667,42.99 667.5,42.99 668,42.99 668.5,42.99 669,42.99 669.5,42.99 670,42.99 670.5,42.99 671,42.99 671.5,42.99 672,42.99 672.5,42.99" fill="none" stroke="#4650a2" stroke-width="1.2" stroke-linejoin="round" />
<rect x="492.4" y="10.7" width="180.1" height="145.3" fill="none" stroke="#1f1f1f" stroke-width="1.2"/>
<line x1="489.4" y1="156" x2="492.4" y2="156" stroke="#1f1f1f" stroke-width="1" />
<text x="487.9" y="159.4" font-size="9.5" text-anchor="end" fill="#1a1a1a" stroke="#1a1a1a" stroke-width="0.22" >0</text>
<line x1="490.4" y1="139.86" x2="492.4" y2="139.86" stroke="#1f1f1f" stroke-width="1" />
<line x1="489.4" y1="123.71" x2="492.4" y2="123.71" stroke="#1f1f1f" stroke-width="1" />
<text x="487.9" y="127.11" font-size="9.5" text-anchor="end" fill="#1a1a1a" stroke="#1a1a1a" stroke-width="0.22" >20</text>
<line x1="490.4" y1="107.57" x2="492.4" y2="107.57" stroke="#1f1f1f" stroke-width="1" />
<line x1="489.4" y1="91.42" x2="492.4" y2="91.42" stroke="#1f1f1f" stroke-width="1" />
<text x="487.9" y="94.82" font-size="9.5" text-anchor="end" fill="#1a1a1a" stroke="#1a1a1a" stroke-width="0.22" >40</text>
<line x1="490.4" y1="75.28" x2="492.4" y2="75.28" stroke="#1f1f1f" stroke-width="1" />
<line x1="489.4" y1="59.13" x2="492.4" y2="59.13" stroke="#1f1f1f" stroke-width="1" />
<text x="487.9" y="62.53" font-size="9.5" text-anchor="end" fill="#1a1a1a" stroke="#1a1a1a" stroke-width="0.22" >60</text>
<line x1="490.4" y1="42.99" x2="492.4" y2="42.99" stroke="#1f1f1f" stroke-width="1" />
<line x1="489.4" y1="26.84" x2="492.4" y2="26.84" stroke="#1f1f1f" stroke-width="1" />
<text x="487.9" y="30.24" font-size="9.5" text-anchor="end" fill="#1a1a1a" stroke="#1a1a1a" stroke-width="0.22" >80</text>
<line x1="490.4" y1="10.7" x2="492.4" y2="10.7" stroke="#1f1f1f" stroke-width="1" />
<line x1="492.4" y1="156" x2="492.4" y2="159" stroke="#1f1f1f" stroke-width="1" />
<text x="492.4" y="168.6" font-size="9.5" text-anchor="middle" fill="#1a1a1a" stroke="#1a1a1a" stroke-width="0.22" >0</text>
<line x1="517.41" y1="156" x2="517.41" y2="158" stroke="#1f1f1f" stroke-width="1" />
<line x1="542.43" y1="156" x2="542.43" y2="159" stroke="#1f1f1f" stroke-width="1" />
<text x="542.43" y="168.6" font-size="9.5" text-anchor="middle" fill="#1a1a1a" stroke="#1a1a1a" stroke-width="0.22" >100</text>
<line x1="567.44" y1="156" x2="567.44" y2="158" stroke="#1f1f1f" stroke-width="1" />
<line x1="592.46" y1="156" x2="592.46" y2="159" stroke="#1f1f1f" stroke-width="1" />
<text x="592.46" y="168.6" font-size="9.5" text-anchor="middle" fill="#1a1a1a" stroke="#1a1a1a" stroke-width="0.22" >200</text>
<line x1="617.47" y1="156" x2="617.47" y2="158" stroke="#1f1f1f" stroke-width="1" />
<line x1="642.48" y1="156" x2="642.48" y2="159" stroke="#1f1f1f" stroke-width="1" />
<text x="642.48" y="168.6" font-size="9.5" text-anchor="middle" fill="#1a1a1a" stroke="#1a1a1a" stroke-width="0.22" >300</text>
<line x1="667.5" y1="156" x2="667.5" y2="158" stroke="#1f1f1f" stroke-width="1" />
<text x="582.45" y="183.7" font-size="9.5" text-anchor="middle" fill="#1a1a1a" stroke="#1a1a1a" stroke-width="0.22" >Time (s)</text>
<text transform="translate(469.9,78.9) rotate(-90)" font-size="9.8" text-anchor="middle" fill="#1f1f1f" stroke="#1f1f1f" stroke-width="0.3">Transmittance (%)</text>
<line x1="607" y1="18.3" x2="626.5" y2="18.3" stroke="#4650a2" stroke-width="1.2" />
<line x1="607" y1="29.1" x2="626.5" y2="29.1" stroke="#f2a08e" stroke-width="1.2" />
<text x="629" y="21.5" font-size="9.4" fill="#1a1a1a" stroke="#1a1a1a" stroke-width="0.22" >Hydrogel</text>
<text x="629" y="31.9" font-size="9.4" fill="#1a1a1a" stroke="#1a1a1a" stroke-width="0.22" >Aqueous</text>
<text x="508.6" y="78.9" font-size="10.5" fill="#4650a2" stroke="#4650a2" stroke-width="0.1" >ΔT=53%</text>
<text x="512.1" y="138.6" font-size="10.5" fill="#ee8c80" stroke="#ee8c80" stroke-width="0.1" >ΔT=6%</text>
<polygon points="37.5,261.25 39.62,261.88 41.75,261.5 43.88,262.12 46,261.75 48,262.36 50,261.97 52,262.58 54,262.19 56,262.81 58,262.42 60,263.03 62,262.64 64,263.25 66,262.86 68,263.47 70,263.08 72,263.69 74,263.31 76,263.92 78,263.53 80,264.14 82,263.75 84,264.36 86,263.97 88,264.58 90,264.19 92,264.81 94,264.42 96,265.03 98,264.64 100,265 100.5,264.05 102.56,263.63 104.62,264.21 106.69,263.79 108.75,264.37 110.81,263.95 112.87,264.54 114.93,264.12 117,264.7 119.06,264.78 121.12,264.36 123.18,264.94 125.24,264.52 127.3,265.1 129.37,264.68 131.43,265.26 133.49,264.85 135.55,265.43 137.61,265.01 139.68,265.59 141.74,265.17 143.8,265.75 145.99,265.51 148.18,266.26 150.37,266.02 152.56,266.77 154.74,266.53 156.93,267.28 159.12,267.54 161.31,267.29 163.5,267.8 164,263.25 166,262.87 168,263.49 170,263.12 172,263.74 174,263.36 176,263.98 178,263.61 180,264.23 182,263.85 184,264.47 186,264.09 188,264.72 190,264.34 192,264.96 194,264.58 196,265.21 198,264.83 200,265.45 202.08,265.23 204.15,266.02 206.23,265.8 208.31,266.59 210.38,266.37 212.46,267.16 214.54,266.94 216.62,267.73 218.69,267.51 220.77,268.3 222.85,268.08 224.92,268.87 227,269.15 228,263.55 230.26,263.44 232.51,264.32 234.77,264.21 237.03,264.59 239.29,265.48 241.54,265.36 243.8,266.25 245.83,265.94 247.86,266.62 249.89,266.31 251.92,267 253.95,266.68 255.98,267.37 258.01,267.06 260.04,267.75 262.07,267.43 264.1,268.12 266.13,267.81 268.17,268.49 270.2,268.18 272.23,268.87 274.26,268.55 276.29,269.24 278.32,268.93 280.35,269.62 282.38,269.3 284.41,269.99 286.44,269.68 288.47,270.36 290.5,270.3 291,264.05 293.25,263.6 295.5,264.15 297.75,263.7 300,264.25 302.19,264.23 304.38,265.2 306.56,265.18 308.75,266.15 310.94,266.12 313.12,266.6 315.31,267.57 317.5,267.55 319.82,268.47 322.13,268.38 324.45,269.3 326.77,269.22 329.08,269.63 331.4,270.55 333.6,270.19 335.8,270.82 338,270.46 340.2,271.1 342.4,270.74 344.6,271.38 346.8,271.01 349,271.65 350,269.75 352.25,270.25 354.5,270 355,265.45 357.05,265.18 359.09,265.91 361.14,265.65 363.18,266.38 365.23,266.11 367.27,266.84 369.32,266.57 371.36,267.3 373.41,267.04 375.45,267.77 377.5,267.5 379.55,268.23 381.59,267.96 383.64,268.7 385.68,268.43 387.73,269.16 389.77,268.89 391.82,269.62 393.86,269.35 395.91,270.09 397.95,269.82 400,270.55 402,270.33 404,271.11 406,270.88 408,271.66 410,271.44 412,272.22 414,271.99 416,272.77 418,272.55 419,265.75 421.07,265.33 423.13,265.91 425.2,265.49 427.27,266.07 429.33,265.65 431.4,266.23 433.47,265.81 435.53,266.39 437.6,265.97 439.67,266.55 441.73,266.13 443.8,266.71 445.87,266.29 447.93,266.87 450,266.45 452,267.29 454,267.13 456,267.97 458,267.81 460,268.65 462,268.49 464,269.33 466,269.17 468,270.01 470,269.85 472,270.69 474,270.53 476,271.37 478,271.21 480,272.05 482,272.95 483,265.75 485.12,265.4 487.25,266.05 489.38,265.7 491.5,266.35 493.62,266 495.75,266.65 497.88,266.3 500,266.95 502,266.58 504,267.2 506,266.83 508,267.45 510,267.08 512,267.71 514,267.33 516,267.96 518,267.58 520,268.21 522,267.84 524,268.46 526,268.09 528,268.72 530,268.34 532,268.97 534,268.59 536,269.22 538,268.85 540,269.47 542,269.1 544,269.72 546,269.6 546.5,264.65 548.64,265.51 550.77,265.38 552.91,266.24 555.05,266.6 557.18,266.47 559.32,267.33 561.45,267.2 563.59,268.06 565.73,267.92 567.86,268.79 570,268.65 572,269.8 574,269.95 576,271.1 578,271.25 580,272.4 582,272.55 584.07,273.11 586.14,272.66 588.21,273.22 590.29,272.78 592.36,273.34 594.43,272.89 596.5,273.2 597,271.05 599,271.05 601,271.05 603,271.05 605,271.05 607,271.05 609,270.8 609.5,266.85 611.64,267.25 613.78,266.65 615.92,267.05 618.06,266.45 620.2,266.85 622.4,267.08 624.6,268.32 626.8,268.55 629,269.78 631.2,270.52 633.4,270.75 635.47,271.38 637.53,271.02 639.6,271.65 641.67,271.28 643.73,271.92 645.8,271.8 646.2,270.55 648.21,271.14 650.21,270.74 652.22,271.33 654.23,270.92 656.24,271.51 658.24,271.11 660.25,271.7 662.26,271.29 664.26,271.89 666.27,271.48 668.28,272.07 670.29,271.66 672.29,272.26 674.3,272.1 674.3,297.3 672.65,297.9 671,297.15 669.34,298.19 667.69,297.44 666.04,298.49 664.39,297.74 662.74,298.79 661.08,298.03 659.43,299.08 657.78,298.33 656.13,299.38 654.48,298.63 652.82,299.67 651.17,298.92 649.52,299.97 647.87,299.22 646.22,300.27 644.56,299.51 642.91,300.56 641.26,299.81 639.61,300.86 637.96,300.11 636.3,301.15 634.65,301.3 633,300.55 631.32,301.4 629.64,300.45 627.96,301.3 626.29,300.35 624.61,301.2 622.93,300.25 621.25,301.1 619.57,300.15 617.89,301 616.21,300.05 614.54,300.9 612.86,299.95 611.18,300.8 609.5,299.85 609,297.7 607.27,297.55 605.55,298.75 603.82,298.15 602.09,299.35 600.36,298.75 598.64,299.95 596.91,299.35 595.18,300.55 593.45,299.95 591.73,301.15 590,300.55 588.33,301.57 586.67,301.68 585,300.9 583.33,301.92 581.67,301.13 580,302.15 578.33,301.37 576.67,302.38 575,301.6 573.33,302.62 571.67,301.83 570,302.85 568.4,301.88 566.8,302.72 565.2,301.75 563.6,302.58 562,301.62 560.4,302.45 558.8,301.48 557.2,302.32 555.6,301.35 554,302.18 552.4,301.22 550.8,302.05 549.2,301.08 547.6,301.92 546,300.95 544.36,301.89 542.71,301.04 541.07,301.98 539.43,301.12 537.79,302.06 536.14,301.21 534.5,302.15 532.86,301.29 531.21,302.24 529.57,301.38 527.93,302.32 526.29,301.46 524.64,302.41 523,301.55 521.36,302.49 519.71,301.64 518.07,302.58 516.43,301.72 514.79,302.66 513.14,301.81 511.5,302.75 509.86,302.79 508.21,301.94 506.57,302.88 504.93,302.02 503.29,302.96 501.64,302.11 500,303.05 498.39,302.12 496.77,302.99 495.16,302.05 493.55,302.92 491.94,301.99 490.32,302.86 488.71,301.92 487.1,302.79 485.48,301.86 483.87,302.73 482.26,301.8 480.65,302.66 479.03,301.73 477.42,302.6 475.81,301.67 474.19,302.53 472.58,301.6 470.97,302.47 469.35,301.54 467.74,302.4 466.13,301.47 464.52,302.34 462.9,301.41 461.29,302.28 459.68,301.34 458.06,302.21 456.45,301.28 454.84,302.15 453.23,301.21 451.61,302.08 450,301.15 448.39,302.02 446.77,301.1 445.16,301.97 443.55,301.05 441.94,301.92 440.32,301 438.71,301.87 437.1,300.94 435.48,301.82 433.87,300.89 432.26,301.77 430.65,300.84 429.03,301.71 427.42,300.79 425.81,301.66 424.19,300.74 422.58,301.61 420.97,300.69 419.35,301.56 417.74,300.63 416.13,301.51 414.52,300.58 412.9,301.46 411.29,300.53 409.68,301.4 408.06,300.48 406.45,301.35 404.84,300.43 403.23,301.3 401.61,300.38 400,301.25 398.39,300.27 396.79,301.09 395.18,300.1 393.57,300.92 391.96,299.94 390.36,300.76 388.75,299.78 387.14,300.59 385.54,299.61 383.93,300.43 382.32,299.45 380.71,300.26 379.11,299.28 377.5,300.1 375.89,299.12 374.29,299.94 372.68,298.95 371.07,299.77 369.46,298.79 367.86,299.61 366.25,298.62 364.64,299.44 363.04,298.46 361.43,299.28 359.82,298.3 358.21,299.11 356.61,298.13 355,298.95 353.33,298.22 351.67,299.28 350,298.55 348.33,299.62 346.67,299.78 345,299.05 343.33,300.12 341.67,299.38 340,300.45 338.33,299.72 336.67,300.78 335,300.05 333.33,301.12 331.67,300.38 330,301.45 328.33,300.49 326.67,301.34 325,300.38 323.33,301.23 321.67,300.27 320,301.12 318.33,300.16 316.67,301.01 315,300.05 313.33,300.89 311.67,299.94 310,300.78 308.33,299.83 306.67,299.77 305,300.62 303.33,299.66 301.67,300.51 300,299.55 298.2,300.65 296.4,299.95 294.6,301.05 292.8,300.35 291,301.45 290.5,299.5 288.88,300.1 287.26,299.35 285.64,300.39 284.02,299.64 282.4,300.69 280.78,299.94 279.16,300.99 277.54,300.23 275.92,301.28 274.3,300.53 272.68,301.58 271.06,300.83 269.44,301.87 267.82,301.12 266.2,302.17 264.58,301.42 262.96,302.47 261.34,301.71 259.72,302.76 258.1,302.01 256.48,303.06 254.86,302.31 253.24,303.35 251.62,302.6 250,303.65 248.31,302.63 246.62,303.42 244.92,302.4 243.23,303.19 241.54,302.17 239.85,302.96 238.15,301.94 236.46,302.73 234.77,301.71 233.08,301.6 231.38,302.38 229.69,301.37 228,302.15 227.5,295.9 225.88,295.47 224.26,296.4 222.65,295.52 221.03,296.44 219.41,295.57 217.79,296.49 216.18,295.61 214.56,296.54 212.94,295.66 211.32,296.59 209.71,295.71 208.09,296.63 206.47,295.76 204.85,296.68 203.24,295.8 201.62,296.73 200,295.85 198.36,296.9 196.73,296.14 195.09,297.19 193.45,296.43 191.82,297.48 190.18,296.72 188.55,297.77 186.91,297.01 185.27,298.06 183.64,297.3 182,298.35 180.36,297.6 178.73,298.64 177.09,298.79 175.45,298.03 173.82,299.08 172.18,298.32 170.55,299.37 168.91,298.61 167.27,299.66 165.64,298.9 164,299.95 163.5,298 161.88,297.61 160.27,298.57 158.65,297.73 157.04,298.69 155.42,297.84 153.81,298.8 152.19,297.96 150.58,298.92 148.96,298.08 147.35,299.04 145.73,298.2 144.12,299.16 142.5,298.32 140.88,299.28 139.27,298.43 137.65,299.39 136.04,298.55 134.42,299.51 132.81,298.67 131.19,299.63 129.58,298.79 127.96,299.75 126.35,298.91 124.73,299.87 123.12,299.02 121.5,299.98 119.88,299.14 118.27,300.1 116.65,299.26 115.04,300.22 113.42,299.38 111.81,300.34 110.19,299.5 108.58,300.46 106.96,299.61 105.35,300.57 103.73,299.73 102.12,300.69 100.5,299.85 99.5,301.45 97.86,300.61 96.22,301.56 94.58,300.72 92.94,301.67 91.31,300.83 89.67,301.78 88.03,300.94 86.39,301.89 84.75,301.05 83.11,302.01 81.47,301.16 79.83,302.12 78.19,301.27 76.56,302.23 74.92,301.38 73.28,302.34 71.64,301.49 70,302.45 68.33,301.54 66.67,301.52 65,302.41 63.33,301.5 61.67,302.38 60,301.47 58.33,302.36 56.67,301.44 55,302.33 53.33,301.42 51.67,302.3 50,301.39 48.33,302.28 46.67,301.36 45,302.25 43.33,299.75 41.67,299.05 40,296.55 37.5,290.55" fill="#62a2c6" stroke="none" stroke-width="0" />
<polygon points="37.5,263.3 38.5,262.2 40.51,262.69 42.53,262.39 44.54,262.88 46.56,262.57 48.57,263.06 50.59,262.76 52.6,263.25 54.61,262.94 56.63,263.44 58.64,263.13 60.66,263.62 62.67,263.31 64.69,263.81 66.7,263.5 68.74,264.01 70.79,263.71 72.83,264.22 74.88,263.93 76.92,264.43 78.96,264.14 81.01,264.24 83.05,264.75 85.09,264.46 87.14,264.96 89.18,264.67 91.23,265.17 93.27,264.88 95.31,265.39 97.36,265.09 99.4,265.6 100.9,264.2 102.98,263.8 105.05,263.8 107.12,264.2 109.2,263.8 111.28,264.2 113.35,263.8 115.42,264.2 117.5,263.8 119.5,265.15 121.5,265.7 123.5,267.05 125.5,267.6 127.5,268.17 129.5,267.94 131.5,268.51 133.5,268.27 135.5,268.84 137.5,268.61 139.5,269.18 141.5,268.95 143.5,269.52 145.5,269.28 147.5,269.85 149.5,269.62 151.5,270.19 153.5,269.96 155.5,270.53 157.5,270.29 159.5,270.86 161.5,270.63 163.5,271.2 165.53,271.04 167.56,271.68 169.58,271.52 171.61,272.16 173.64,271.99 175.67,272.63 177.69,272.47 179.72,273.11 181.75,272.95 183.78,273.59 185.81,273.43 187.83,274.07 189.86,273.91 191.89,274.54 193.92,274.38 195.94,275.02 197.97,274.86 200,275.5 202,275.25 204,275.81 206,275.56 208,276.11 210,275.87 212,276.42 214,276.17 216,276.73 218,276.48 220,277.03 222,276.79 224,277.34 226,277.09 228,277.65 230,277.4 232,278.02 234,277.84 236,278.46 238,278.28 240,278.9 242,278.72 244,279.34 246,279.16 248,279.78 250,279.6 252,280.37 254,280.34 256,281.11 258,281.08 260,281.85 262,281.82 264,282.59 266,282.56 268,283.33 270,283.3 272,283.79 274,283.49 276,283.98 278,283.67 280,284.17 282,283.86 284,284.35 286,284.05 288,284.54 290,284.23 292,284.73 294,284.42 296,284.91 298,284.61 300,285.1 302,284.71 304,285.12 306,284.73 308,285.14 310,284.76 312,285.17 314,284.78 316,285.19 318,285 318.5,282.8 320.53,283.17 322.56,282.73 324.58,283.1 326.61,282.67 328.64,283.03 330.67,282.6 332.69,282.97 334.72,282.53 336.75,282.9 338.78,282.47 340.81,282.83 342.83,282.4 344.86,282.77 346.89,282.33 348.92,282.7 350.94,282.27 352.97,282.63 355,282.6 357.14,282.46 359.29,283.11 361.43,282.97 363.57,283.63 365.71,283.49 367.86,284.14 370,284 372,284.7 374,284.6 376,285.3 378,285.2 380,285.9 382,285.8 384,286.5 386,286.4 388,287.1 390,287 392,287.7 394,287.6 396,288.3 398,288.2 400,288.9 402,288.63 404,289.16 406,288.89 408,289.42 410,289.15 412,289.68 414,289.41 416,289.94 418,289.67 420,290.2 422.06,289.83 424.12,290.26 426.18,289.89 428.24,290.32 430.29,289.95 432.35,290.38 434.41,290.01 436.47,290.44 438.53,290.06 440.59,290.49 442.65,290.12 444.71,290.55 446.76,290.18 448.82,290.61 450.88,290.24 452.94,290.67 455,290.7 457.05,290.44 459.09,290.97 461.14,290.71 463.18,291.25 465.23,290.98 467.27,291.52 469.32,291.25 471.36,291.79 473.41,291.53 475.45,292.06 477.5,291.8 479.55,292.34 481.59,292.07 483.64,292.61 485.68,292.35 487.73,292.88 489.77,292.62 491.82,293.15 493.86,292.89 495.91,293.43 497.95,293.16 500,293.7 502.02,293.33 504.04,293.75 506.07,293.38 508.09,293.8 510.11,293.43 512.13,293.86 514.15,293.48 516.17,293.91 518.2,293.53 520.22,293.96 522.24,293.59 524.26,294.01 526.28,293.64 528.3,294.07 530.33,293.69 532.35,294.12 534.37,293.74 536.39,294.17 538.41,293.8 540.43,294.22 542.46,293.85 544.48,294.27 546.5,294.1 546.5,303.2 544.84,302.79 543.19,302.84 541.53,303.78 539.88,302.93 538.22,303.87 536.56,303.01 534.91,303.96 533.25,303.1 531.59,304.04 529.94,303.19 528.28,304.13 526.62,303.27 524.97,304.22 523.31,303.36 521.66,304.31 520,303.45 518.33,304.29 516.67,303.33 515,304.17 513.33,303.22 511.67,304.06 510,303.1 508.33,303.94 506.67,302.98 505,303.82 503.33,302.87 501.67,303.71 500,303.65 498.39,302.69 496.77,303.53 495.16,302.58 493.55,303.42 491.94,302.46 490.32,303.3 488.71,302.34 487.1,303.19 485.48,302.23 483.87,303.07 482.26,302.11 480.65,302.95 479.03,302 477.42,302.84 475.81,301.88 474.19,302.72 472.58,301.76 470.97,302.6 469.35,301.65 467.74,302.49 466.13,301.53 464.52,302.37 462.9,301.41 461.29,302.26 459.68,301.3 458.06,302.14 456.45,301.18 454.84,302.02 453.23,301.07 451.61,301.91 450,300.95 448.39,301.82 446.77,300.89 445.16,301.76 443.55,300.83 441.94,301.7 440.32,300.78 438.71,301.65 437.1,300.72 435.48,301.59 433.87,300.66 432.26,301.53 430.65,300.6 429.03,301.47 427.42,300.54 425.81,301.41 424.19,300.49 422.58,301.36 420.97,300.43 419.35,301.3 417.74,300.37 416.13,301.24 414.52,300.31 412.9,301.18 411.29,300.25 409.68,301.12 408.06,300.2 406.45,301.07 404.84,300.14 403.23,301.01 401.61,300.08 400,300.95 398.39,299.94 396.79,300.72 395.18,299.71 393.57,300.49 391.96,299.48 390.36,300.26 388.75,299.25 387.14,300.04 385.54,299.02 383.93,299.81 382.32,298.79 380.71,299.58 379.11,298.56 377.5,299.35 375.89,298.34 374.29,299.12 372.68,298.11 371.07,298.89 369.46,297.88 367.86,298.66 366.25,297.65 364.64,298.44 363.04,297.42 361.43,298.21 359.82,297.19 358.21,297.98 356.61,296.96 355,297.75 353.39,296.84 351.78,297.72 350.17,296.81 348.57,297.7 346.96,296.78 345.35,297.67 343.74,296.76 342.13,297.65 340.52,296.73 338.91,297.62 337.3,296.71 335.7,297.59 334.09,296.68 332.48,297.57 330.87,296.65 329.26,297.54 327.65,296.63 326.04,297.52 324.43,296.6 322.83,297.49 321.22,296.58 319.61,297.46 318,296.55 316.36,297.5 314.73,296.66 313.09,297.61 311.45,296.77 309.82,297.72 308.18,296.88 306.55,297.83 304.91,296.99 303.27,297.94 301.64,297.1 300,298.05 298.4,297.97 296.8,297.89 295.2,297.81 293.6,297.73 292,297.65 290.4,296.67 288.8,297.49 287.2,296.51 285.6,297.33 284,297.25 282.4,297.17 280.8,297.09 279.2,297.01 277.6,296.93 276,296.85 274.4,295.87 272.8,296.69 271.2,295.71 269.6,296.53 268,296.45 266.4,296.37 264.8,296.29 263.2,296.21 261.6,296.13 260,296.05 258.4,295.06 256.8,295.86 255.2,294.87 253.6,295.67 252,295.57 250.4,295.48 248.8,295.38 247.2,295.29 245.6,295.19 244,295.1 242.4,295 240.8,294.91 239.2,293.92 237.6,294.72 236,294.62 234.4,294.53 232.8,294.44 231.2,294.34 229.6,294.25 228,294.15 226.35,293.27 224.71,294.2 223.06,293.32 221.41,294.24 219.76,293.37 218.12,294.29 216.47,293.41 214.82,294.34 213.18,293.46 211.53,294.39 209.88,293.51 208.24,294.43 206.59,293.56 204.94,294.48 203.29,293.6 201.65,294.53 200,293.65 198.39,294.61 196.77,293.77 195.16,294.72 193.55,293.88 191.94,294.84 190.32,294 188.71,294.96 187.1,294.11 185.48,295.07 183.87,294.23 182.26,295.19 180.65,294.35 179.03,295.3 177.42,294.46 175.81,295.42 174.19,294.58 172.58,295.54 170.97,294.7 169.35,295.65 167.74,294.81 166.13,295.77 164.52,294.93 162.9,295.89 161.29,295.04 159.68,296 158.06,295.16 156.45,296.12 154.84,295.28 153.23,296.23 151.61,295.39 150,296.35 148.36,295.48 146.73,296.42 145.09,295.55 143.45,296.48 141.82,295.62 140.18,296.55 138.54,295.68 136.91,296.62 135.27,295.75 133.63,296.68 132,296.72 130.36,295.85 128.72,296.78 127.09,295.92 125.45,296.85 123.81,295.98 122.18,296.92 120.54,296.05 118.9,296.98 117.27,296.12 115.63,297.05 113.99,296.18 112.36,297.12 110.72,296.25 109.08,297.18 107.45,296.32 105.81,297.25 104.17,296.38 102.54,297.32 100.9,296.45 99.4,299.15 97.8,298.24 96.2,299.12 94.6,298.21 93,299.09 91.4,298.18 89.8,299.06 88.2,298.15 86.6,299.03 85,298.12 83.4,299 81.8,298.09 80.2,298.97 78.6,298.06 77,298.94 75.4,298.03 73.8,298.91 72.2,298 70.6,298.89 69,297.97 67.4,298.86 65.8,297.94 64.2,298.83 62.6,297.91 61,298.8 59.4,297.88 57.8,298.77 56.2,297.85 54.6,298.74 53,297.82 51.4,298.71 49.8,297.79 48.2,298.68 46.6,297.76 45,298.65 42,298.85 40.25,295.25 38.5,293.45 37.5,289.55" fill="#e3a080" stroke="none" stroke-width="0" />
<defs>
<linearGradient id="garrR" x1="0" y1="0" x2="1" y2="0"><stop offset="0" stop-color="#ffffff"/><stop offset="0.35" stop-color="#eef6e6"/><stop offset="1" stop-color="#e9c8a6"/></linearGradient>
<linearGradient id="garrL" x1="1" y1="0" x2="0" y2="0"><stop offset="0" stop-color="#ffffff"/><stop offset="0.35" stop-color="#eef6e6"/><stop offset="1" stop-color="#e9c8a6"/></linearGradient>
<linearGradient id="ggrD" x1="0" y1="0" x2="0" y2="1"><stop offset="0" stop-color="#f2f2f4"/><stop offset="1" stop-color="#b4b4bc"/></linearGradient>
<linearGradient id="ggrU" x1="0" y1="1" x2="0" y2="0"><stop offset="0" stop-color="#f2f2f4"/><stop offset="1" stop-color="#b4b4bc"/></linearGradient>
<linearGradient id="gplate" x1="0" y1="0" x2="0.3" y2="1"><stop offset="0" stop-color="#d2e2f6"/><stop offset="1" stop-color="#b2cbee"/></linearGradient>
<linearGradient id="gbolt" x1="0" y1="0" x2="0" y2="1"><stop offset="0" stop-color="#a6f0c4"/><stop offset="1" stop-color="#cdf7df"/></linearGradient>
<linearGradient id="gpyr" x1="0" y1="0" x2="0" y2="1"><stop offset="0" stop-color="#7b3fc0"/><stop offset="1" stop-color="#a8c4ee"/></linearGradient>
</defs>
<polygon points="186.7,212.9 192.7,208.55 189.7,208.55 189.7,204.2 183.7,204.2 183.7,208.55 180.7,208.55" fill="url(#ggrD)" stroke="none" stroke-width="0" />
<polygon points="119.7,213.9 253.7,213.9 224,220.5 149.4,220.5" fill="url(#gplate)" stroke="none" stroke-width="0" />
<polygon points="105.9,232.9 136,231.5 136,236 105.9,235.3" fill="#cbd8ea" stroke="none" stroke-width="0" />
<rect x="101.3" y="233.1" width="4.6" height="2.3" fill="#151515" />
<rect x="136" y="231.5" width="104" height="4.6" fill="#c2d2e6" />
<rect x="136" y="232.2" width="19.76" height="3.4" fill="#1e2228" opacity="0.45" rx="0.8"/>
<rect x="139.12" y="232.8" width="5.2" height="2.4" fill="#1e2228" opacity="0.6" rx="0.8"/>
<rect x="148.48" y="232" width="7.28" height="3.6" fill="#1e2228" opacity="0.85" rx="0.8"/>
<rect x="173.44" y="233.8" width="17.68" height="2" fill="#1e2228" opacity="0.6" rx="0.8"/>
<rect x="179.68" y="233.2" width="8.32" height="1.6" fill="#1e2228" opacity="0.5" rx="0.8"/>
<rect x="200.48" y="234.2" width="14.56" height="1.3" fill="#1e2228" opacity="0.45" rx="0.8"/>
<rect x="219.2" y="234.1" width="10.4" height="1.2" fill="#1e2228" opacity="0.4" rx="0.8"/>
<rect x="136" y="235.4" width="104" height="0.7" fill="#8a9ab0"  opacity="0.6"/>
<polygon points="243.5,231.3 276.6,233.9 276.6,236.2 243.5,233.5" fill="#cbd8ea" stroke="none" stroke-width="0" />
<rect x="268.6" y="233.9" width="8" height="2.3" fill="#a6bedb" />
<polygon points="150.1,242.3 223.3,242.3 252.2,252.3 121.2,252.3" fill="url(#gplate)" stroke="none" stroke-width="0" />
<polygon points="186.7,253.3 192.7,258.3 189.7,258.3 189.7,263.3 183.7,263.3 183.7,258.3 180.7,258.3" fill="url(#ggrU)" stroke="none" stroke-width="0" />
<polygon points="314,231.3 388,231.3 388,227 406.3,235.4 388,243.8 388,239.4 314,239.4" fill="url(#garrR)" stroke="none" stroke-width="0" />
<text x="330.2" y="229" font-size="9.2" font-weight="bold" fill="#111" stroke="#111" stroke-width="0.22" >Assembling</text>
<polygon points="469.4,223.5 584.9,223.5 617,233.3 435.8,233.3" fill="#c6daf2" stroke="none" stroke-width="0" />
<rect x="435.8" y="233.3" width="181.2" height="11.7" fill="#bdd3ee" />
<rect x="468" y="226.5" width="20" height="2.2" rx="1" fill="#7d8796" opacity="0.35"/>
<rect x="495" y="225.5" width="30" height="2.5" rx="1" fill="#7d8796" opacity="0.3"/>
<rect x="530" y="227.5" width="25" height="2.2" rx="1" fill="#7d8796" opacity="0.35"/>
<rect x="560" y="225.8" width="18" height="2" rx="1" fill="#7d8796" opacity="0.3"/>
<rect x="480" y="229.8" width="40" height="1.8" rx="1" fill="#7d8796" opacity="0.3"/>
<rect x="540" y="230" width="35" height="1.8" rx="1" fill="#7d8796" opacity="0.35"/>
<rect x="455" y="231" width="14" height="1.4" rx="1" fill="#7d8796" opacity="0.25"/>
<rect x="449" y="236.6" width="6" height="3" rx="0.8" fill="#1c2026" opacity="0.9"/>
<rect x="458" y="237.2" width="30" height="2.2" rx="0.8" fill="#1c2026" opacity="0.8"/>
<rect x="490" y="238" width="25" height="1.6" rx="0.8" fill="#1c2026" opacity="0.7"/>
<rect x="516" y="237" width="34" height="2.4" rx="0.8" fill="#1c2026" opacity="0.85"/>
<rect x="552" y="237.6" width="30" height="2" rx="0.8" fill="#1c2026" opacity="0.75"/>
<rect x="584" y="236.8" width="16" height="2.5" rx="0.8" fill="#1c2026" opacity="0.8"/>
<rect x="450" y="240.8" width="150" height="0.8" fill="#7f90a6"  opacity="0.6"/>
<rect x="435.8" y="236.5" width="4.4" height="4.5" fill="#dfe6ee" />
<rect x="440.2" y="237.8" width="6.8" height="2.6" fill="#59626e" />
<rect x="604.6" y="236.5" width="12.4" height="4.5" fill="#dfe6ee" />
<rect x="608" y="237.8" width="5" height="2.6" fill="#59626e" />
<polygon points="305.3,342.6 322.7,335 322.7,338.5 396,338.5 396,346.7 322.7,346.7 322.7,350.2" fill="url(#garrL)" stroke="none" stroke-width="0" />
<text x="320.5" y="336" font-size="9.4" font-weight="bold" fill="#111" stroke="#111" stroke-width="0.22" >Ultrasonic cleaning</text>
<polygon points="520.8,309.5 526.8,314.25 523.8,314.25 523.8,319 517.8,319 517.8,314.25 514.8,314.25" fill="url(#ggrU)" stroke="none" stroke-width="0" />
<polygon points="452.7,321.6 589.7,321.6 559,327 483.4,327" fill="url(#gplate)" stroke="none" stroke-width="0" />
<polygon points="438.4,338.9 468.8,337.5 468.8,342 438.4,341.3" fill="#cbd8ea" stroke="none" stroke-width="0" />
<rect x="433.8" y="339.1" width="4.6" height="2.3" fill="#151515" />
<rect x="468.8" y="337.5" width="106.2" height="4.6" fill="#c2d2e6" />
<rect x="468.8" y="338.2" width="20.18" height="3.4" fill="#1e2228" opacity="0.45" rx="0.8"/>
<rect x="471.99" y="338.8" width="5.31" height="2.4" fill="#1e2228" opacity="0.6" rx="0.8"/>
<rect x="481.54" y="338" width="7.43" height="3.6" fill="#1e2228" opacity="0.85" rx="0.8"/>
<rect x="507.03" y="339.8" width="18.05" height="2" fill="#1e2228" opacity="0.6" rx="0.8"/>
<rect x="513.4" y="339.2" width="8.5" height="1.6" fill="#1e2228" opacity="0.5" rx="0.8"/>
<rect x="534.64" y="340.2" width="14.87" height="1.3" fill="#1e2228" opacity="0.45" rx="0.8"/>
<rect x="553.76" y="340.1" width="10.62" height="1.2" fill="#1e2228" opacity="0.4" rx="0.8"/>
<rect x="468.8" y="341.4" width="106.2" height="0.7" fill="#8a9ab0"  opacity="0.6"/>
<polygon points="578.5,337.3 612.5,339.9 612.5,342.2 578.5,339.5" fill="#cbd8ea" stroke="none" stroke-width="0" />
<rect x="604.5" y="339.9" width="8" height="2.3" fill="#a6bedb" />
<polygon points="475,349.6 567.4,349.6 588.9,358.4 453.5,358.4" fill="url(#gplate)" stroke="none" stroke-width="0" />
<rect x="469.13" y="353.73" width="2" height="1.6" rx="0.5" fill="#2b2f36"/>
<rect x="472.31" y="353.1" width="2" height="1.6" rx="0.5" fill="#2b2f36"/>
<rect x="474.42" y="352.67" width="2" height="1.6" rx="0.5" fill="#2b2f36"/>
<rect x="479.72" y="350.98" width="2" height="1.6" rx="0.5" fill="#2b2f36"/>
<rect x="481.84" y="350.98" width="2" height="1.6" rx="0.5" fill="#2b2f36"/>
<rect x="486.08" y="353.73" width="2" height="1.6" rx="0.5" fill="#2b2f36"/>
<rect x="491.37" y="348.86" width="2" height="1.6" rx="0.5" fill="#2b2f36"/>
<rect x="495.61" y="352.25" width="2" height="1.6" rx="0.5" fill="#2b2f36"/>
<rect x="500.91" y="353.73" width="2" height="1.6" rx="0.5" fill="#2b2f36"/>
<rect x="506.2" y="350.13" width="2" height="1.6" rx="0.5" fill="#2b2f36"/>
<rect x="512.56" y="349.5" width="2" height="1.6" rx="0.5" fill="#2b2f36"/>
<rect x="514.68" y="353.1" width="2" height="1.6" rx="0.5" fill="#2b2f36"/>
<rect x="521.03" y="349.5" width="2" height="1.6" rx="0.5" fill="#2b2f36"/>
<rect x="527.39" y="348.44" width="2" height="1.6" rx="0.5" fill="#2b2f36"/>
<rect x="532.69" y="348.86" width="2" height="1.6" rx="0.5" fill="#2b2f36"/>
<rect x="536.92" y="348.44" width="2" height="1.6" rx="0.5" fill="#2b2f36"/>
<rect x="539.04" y="353.73" width="2" height="1.6" rx="0.5" fill="#2b2f36"/>
<rect x="543.28" y="348.86" width="2" height="1.6" rx="0.5" fill="#2b2f36"/>
<rect x="544.34" y="353.1" width="2" height="1.6" rx="0.5" fill="#2b2f36"/>
<rect x="548.58" y="348.86" width="2" height="1.6" rx="0.5" fill="#2b2f36"/>
<rect x="551.75" y="353.73" width="2" height="1.6" rx="0.5" fill="#2b2f36"/>
<rect x="557.05" y="349.5" width="2" height="1.6" rx="0.5" fill="#2b2f36"/>
<rect x="558.11" y="351.62" width="2" height="1.6" rx="0.5" fill="#2b2f36"/>
<rect x="564.47" y="353.73" width="2" height="1.6" rx="0.5" fill="#2b2f36"/>
<rect x="569.76" y="353.1" width="2" height="1.6" rx="0.5" fill="#2b2f36"/>
<polygon points="520.8,370.8 526.8,366.05 523.8,366.05 523.8,361.3 517.8,361.3 517.8,366.05 514.8,366.05" fill="url(#ggrD)" stroke="none" stroke-width="0" />
<text x="104.8" y="330" font-size="9.6" font-weight="bold" fill="#111" stroke="#111" stroke-width="0.22" >H<tspan font-size="5.6" dy="-3.4">+</tspan></text>
<polygon points="131.9,315.5 137.4,312.6 140.7,316.8 140,317.5 143.8,321.7 141.4,323.5 147.6,329 140,324.6 140.7,323.5 136,321 137,319.9" fill="#b4f3cf" stroke="none" stroke-width="0" />
<polygon points="161.5,318.2 167,315.3 170.3,319.5 169.6,320.2 173.4,324.4 171,326.2 177.2,331.7 169.6,327.3 170.3,326.2 165.6,323.7 166.6,322.6" fill="#b4f3cf" stroke="none" stroke-width="0" />
<polygon points="188.3,315.9 193.8,313 197.1,317.2 196.4,317.9 200.2,322.1 197.8,323.9 204,329.4 196.4,325 197.1,323.9 192.4,321.4 193.4,320.3" fill="#b4f3cf" stroke="none" stroke-width="0" />
<polygon points="237.1,317.9 231.6,315 228.3,319.2 229,319.9 225.2,324.1 227.6,325.9 221.4,331.4 229,327 228.3,325.9 233,323.4 232,322.3" fill="#b4f3cf" stroke="none" stroke-width="0" />
<defs><linearGradient id="gpl2" x1="0" y1="0" x2="0" y2="1"><stop offset="0" stop-color="#c9dcf5"/><stop offset="1" stop-color="#a9c5ee"/></linearGradient>
<linearGradient id="gglow" x1="0" y1="0" x2="0" y2="1"><stop offset="0" stop-color="#7a52c4" stop-opacity="0.9"/><stop offset="0.5" stop-color="#8a9ae0" stop-opacity="0.7"/><stop offset="1" stop-color="#a8c4ee" stop-opacity="0"/></linearGradient>
<radialGradient id="gpart"><stop offset="0" stop-color="#eeeeee"/><stop offset="1" stop-color="#a8a8a8"/></radialGradient></defs>
<polygon points="146,345.3 230,345.3 260,358.6 112,358.6" fill="url(#gpl2)" stroke="none" stroke-width="0" />
<path d="M148.8,342.5 Q148.5,347.5 144,349.5 L158,349.5 Q153.5,347.5 153.2,342.5 Z" fill="url(#gglow)"/>
<polygon points="151,339.5 154.2,342.1 153.2,342.1 153.2,343.5 148.8,343.5 148.8,342.1 147.8,342.1" fill="#6a38b8"/>
<path d="M160.9,346.9 Q160.6,351.9 156.1,353.9 L170.1,353.9 Q165.6,351.9 165.3,346.9 Z" fill="url(#gglow)"/>
<polygon points="163.1,343.9 166.3,346.5 165.3,346.5 165.3,347.9 160.9,347.9 160.9,346.5 159.9,346.5" fill="#6a38b8"/>
<path d="M173.3,343.2 Q173,348.2 168.5,350.2 L182.5,350.2 Q178,348.2 177.7,343.2 Z" fill="url(#gglow)"/>
<polygon points="175.5,340.2 178.7,342.8 177.7,342.8 177.7,344.2 173.3,344.2 173.3,342.8 172.3,342.8" fill="#6a38b8"/>
<path d="M190.6,341 Q190.3,346 185.8,348 L199.8,348 Q195.3,346 195,341 Z" fill="url(#gglow)"/>
<polygon points="192.8,338 196,340.6 195,340.6 195,342 190.6,342 190.6,340.6 189.6,340.6" fill="#6a38b8"/>
<path d="M196.9,347.6 Q196.6,352.6 192.1,354.6 L206.1,354.6 Q201.6,352.6 201.3,347.6 Z" fill="url(#gglow)"/>
<polygon points="199.1,344.6 202.3,347.2 201.3,347.2 201.3,348.6 196.9,348.6 196.9,347.2 195.9,347.2" fill="#6a38b8"/>
<path d="M205.7,343.2 Q205.4,348.2 200.9,350.2 L214.9,350.2 Q210.4,348.2 210.1,343.2 Z" fill="url(#gglow)"/>
<polygon points="207.9,340.2 211.1,342.8 210.1,342.8 210.1,344.2 205.7,344.2 205.7,342.8 204.7,342.8" fill="#6a38b8"/>
<path d="M220.3,347.6 Q220,352.6 215.5,354.6 L229.5,354.6 Q225,352.6 224.7,347.6 Z" fill="url(#gglow)"/>
<polygon points="222.5,344.6 225.7,347.2 224.7,347.2 224.7,348.6 220.3,348.6 220.3,347.2 219.3,347.2" fill="#6a38b8"/>
<path d="M225.4,341 Q225.1,346 220.6,348 L234.6,348 Q230.1,346 229.8,341 Z" fill="url(#gglow)"/>
<polygon points="227.6,338 230.8,340.6 229.8,340.6 229.8,342 225.4,342 225.4,340.6 224.4,340.6" fill="#6a38b8"/>
<circle cx="141" cy="348.7" r="1.05" fill="#2a2f3a"/><circle cx="142.8" cy="348.4" r="0.9" fill="#2a2f3a"/>
<circle cx="149" cy="352.5" r="1.05" fill="#2a2f3a"/><circle cx="150.8" cy="352.2" r="0.9" fill="#2a2f3a"/>
<circle cx="154" cy="347" r="1.05" fill="#2a2f3a"/><circle cx="155.8" cy="346.7" r="0.9" fill="#2a2f3a"/>
<circle cx="160" cy="350.5" r="1.05" fill="#2a2f3a"/><circle cx="161.8" cy="350.2" r="0.9" fill="#2a2f3a"/>
<circle cx="166" cy="353" r="1.05" fill="#2a2f3a"/><circle cx="167.8" cy="352.7" r="0.9" fill="#2a2f3a"/>
<circle cx="171" cy="347.8" r="1.05" fill="#2a2f3a"/><circle cx="172.8" cy="347.5" r="0.9" fill="#2a2f3a"/>
<circle cx="178" cy="352" r="1.05" fill="#2a2f3a"/><circle cx="179.8" cy="351.7" r="0.9" fill="#2a2f3a"/>
<circle cx="187" cy="348.5" r="1.05" fill="#2a2f3a"/><circle cx="188.8" cy="348.2" r="0.9" fill="#2a2f3a"/>
<circle cx="194" cy="353.5" r="1.05" fill="#2a2f3a"/><circle cx="195.8" cy="353.2" r="0.9" fill="#2a2f3a"/>
<circle cx="202" cy="347" r="1.05" fill="#2a2f3a"/><circle cx="203.8" cy="346.7" r="0.9" fill="#2a2f3a"/>
<circle cx="207" cy="352.2" r="1.05" fill="#2a2f3a"/><circle cx="208.8" cy="351.9" r="0.9" fill="#2a2f3a"/>
<circle cx="213" cy="349" r="1.05" fill="#2a2f3a"/><circle cx="214.8" cy="348.7" r="0.9" fill="#2a2f3a"/>
<circle cx="219" cy="353.7" r="1.05" fill="#2a2f3a"/><circle cx="220.8" cy="353.4" r="0.9" fill="#2a2f3a"/>
<circle cx="228" cy="348.3" r="1.05" fill="#2a2f3a"/><circle cx="229.8" cy="348" r="0.9" fill="#2a2f3a"/>
<circle cx="234" cy="352.7" r="1.05" fill="#2a2f3a"/><circle cx="235.8" cy="352.4" r="0.9" fill="#2a2f3a"/>
<circle cx="242" cy="353" r="1.05" fill="#2a2f3a"/><circle cx="243.8" cy="352.7" r="0.9" fill="#2a2f3a"/>
<circle cx="117" cy="348.3" r="1.05" fill="#2a2f3a"/><circle cx="118.8" cy="348" r="0.9" fill="#2a2f3a"/>
<circle cx="126" cy="353" r="1.05" fill="#2a2f3a"/><circle cx="127.8" cy="352.7" r="0.9" fill="#2a2f3a"/>
<circle cx="135" cy="355" r="1.05" fill="#2a2f3a"/><circle cx="136.8" cy="354.7" r="0.9" fill="#2a2f3a"/>
<circle cx="114.5" cy="335.5" r="1.75" fill="#d2d2d2" stroke="#9a9a9a" stroke-width="0.55"/>
<circle cx="127" cy="338.5" r="1.75" fill="#d2d2d2" stroke="#9a9a9a" stroke-width="0.55"/>
<circle cx="142.5" cy="332.5" r="1.75" fill="#d2d2d2" stroke="#9a9a9a" stroke-width="0.55"/>
<circle cx="163" cy="334.5" r="1.75" fill="#d2d2d2" stroke="#9a9a9a" stroke-width="0.55"/>
<circle cx="180" cy="335" r="1.75" fill="#d2d2d2" stroke="#9a9a9a" stroke-width="0.55"/>
<circle cx="196" cy="331.5" r="1.75" fill="#d2d2d2" stroke="#9a9a9a" stroke-width="0.55"/>
<circle cx="210" cy="333.5" r="1.75" fill="#d2d2d2" stroke="#9a9a9a" stroke-width="0.55"/>
<circle cx="222" cy="337" r="1.75" fill="#d2d2d2" stroke="#9a9a9a" stroke-width="0.55"/>
<circle cx="243" cy="336.5" r="1.75" fill="#d2d2d2" stroke="#9a9a9a" stroke-width="0.55"/>
<circle cx="256.5" cy="333.5" r="1.75" fill="#d2d2d2" stroke="#9a9a9a" stroke-width="0.55"/>
<circle cx="254.5" cy="343.5" r="1.75" fill="#d2d2d2" stroke="#9a9a9a" stroke-width="0.55"/>
<circle cx="119" cy="346" r="1.75" fill="#d2d2d2" stroke="#9a9a9a" stroke-width="0.55"/>
<circle cx="111" cy="355.5" r="1.75" fill="#d2d2d2" stroke="#9a9a9a" stroke-width="0.55"/>
<circle cx="124" cy="363" r="1.75" fill="#d2d2d2" stroke="#9a9a9a" stroke-width="0.55"/>
<circle cx="142.5" cy="360.5" r="1.75" fill="#d2d2d2" stroke="#9a9a9a" stroke-width="0.55"/>
<circle cx="165" cy="363.5" r="1.75" fill="#d2d2d2" stroke="#9a9a9a" stroke-width="0.55"/>
<circle cx="187" cy="363" r="1.75" fill="#d2d2d2" stroke="#9a9a9a" stroke-width="0.55"/>
<circle cx="207" cy="361" r="1.75" fill="#d2d2d2" stroke="#9a9a9a" stroke-width="0.55"/>
<circle cx="229" cy="363" r="1.75" fill="#d2d2d2" stroke="#9a9a9a" stroke-width="0.55"/>
<circle cx="246" cy="356" r="1.75" fill="#d2d2d2" stroke="#9a9a9a" stroke-width="0.55"/>
<circle cx="259" cy="351.5" r="1.75" fill="#d2d2d2" stroke="#9a9a9a" stroke-width="0.55"/>
<circle cx="184.5" cy="353" r="1.75" fill="#d2d2d2" stroke="#9a9a9a" stroke-width="0.55"/>
<circle cx="159" cy="355" r="1.75" fill="#d2d2d2" stroke="#9a9a9a" stroke-width="0.55"/>
<circle cx="209" cy="352" r="1.75" fill="#d2d2d2" stroke="#9a9a9a" stroke-width="0.55"/>
<circle cx="132.8" cy="339.3" r="1.75" fill="#d2d2d2" stroke="#9a9a9a" stroke-width="0.55"/>
<circle cx="176.5" cy="344.5" r="1.75" fill="#d2d2d2" stroke="#9a9a9a" stroke-width="0.55"/>
<circle cx="186" cy="340.3" r="1.75" fill="#d2d2d2" stroke="#9a9a9a" stroke-width="0.55"/>
<rect x="37.5" y="198.8" width="636.8" height="176.4" fill="none" stroke="#1f1f1f" stroke-width="1.2"/>
<line x1="34.5" y1="374.98" x2="37.5" y2="374.98" stroke="#1f1f1f" stroke-width="1" />
<text x="34.5" y="378.08" font-size="8.8" text-anchor="end" fill="#1a1a1a" stroke="#1a1a1a" stroke-width="0.22" >-120</text>
<line x1="35.5" y1="363.23" x2="37.5" y2="363.23" stroke="#1f1f1f" stroke-width="1" />
<line x1="34.5" y1="351.48" x2="37.5" y2="351.48" stroke="#1f1f1f" stroke-width="1" />
<text x="34.5" y="354.58" font-size="8.8" text-anchor="end" fill="#1a1a1a" stroke="#1a1a1a" stroke-width="0.22" >-80</text>
<line x1="35.5" y1="339.74" x2="37.5" y2="339.74" stroke="#1f1f1f" stroke-width="1" />
<line x1="34.5" y1="327.99" x2="37.5" y2="327.99" stroke="#1f1f1f" stroke-width="1" />
<text x="34.5" y="331.09" font-size="8.8" text-anchor="end" fill="#1a1a1a" stroke="#1a1a1a" stroke-width="0.22" >-40</text>
<line x1="35.5" y1="316.25" x2="37.5" y2="316.25" stroke="#1f1f1f" stroke-width="1" />
<line x1="34.5" y1="304.5" x2="37.5" y2="304.5" stroke="#1f1f1f" stroke-width="1" />
<text x="34.5" y="307.6" font-size="8.8" text-anchor="end" fill="#1a1a1a" stroke="#1a1a1a" stroke-width="0.22" >0</text>
<line x1="35.5" y1="292.75" x2="37.5" y2="292.75" stroke="#1f1f1f" stroke-width="1" />
<line x1="34.5" y1="281.01" x2="37.5" y2="281.01" stroke="#1f1f1f" stroke-width="1" />
<text x="34.5" y="284.11" font-size="8.8" text-anchor="end" fill="#1a1a1a" stroke="#1a1a1a" stroke-width="0.22" >40</text>
<line x1="35.5" y1="269.26" x2="37.5" y2="269.26" stroke="#1f1f1f" stroke-width="1" />
<line x1="34.5" y1="257.52" x2="37.5" y2="257.52" stroke="#1f1f1f" stroke-width="1" />
<text x="34.5" y="260.62" font-size="8.8" text-anchor="end" fill="#1a1a1a" stroke="#1a1a1a" stroke-width="0.22" >80</text>
<line x1="35.5" y1="245.77" x2="37.5" y2="245.77" stroke="#1f1f1f" stroke-width="1" />
<line x1="34.5" y1="234.02" x2="37.5" y2="234.02" stroke="#1f1f1f" stroke-width="1" />
<text x="34.5" y="237.12" font-size="8.8" text-anchor="end" fill="#1a1a1a" stroke="#1a1a1a" stroke-width="0.22" >120</text>
<line x1="35.5" y1="222.28" x2="37.5" y2="222.28" stroke="#1f1f1f" stroke-width="1" />
<line x1="34.5" y1="210.53" x2="37.5" y2="210.53" stroke="#1f1f1f" stroke-width="1" />
<text x="34.5" y="213.63" font-size="8.8" text-anchor="end" fill="#1a1a1a" stroke="#1a1a1a" stroke-width="0.22" >160</text>
<line x1="35.5" y1="198.79" x2="37.5" y2="198.79" stroke="#1f1f1f" stroke-width="1" />
<line x1="37.5" y1="375.2" x2="37.5" y2="378.2" stroke="#1f1f1f" stroke-width="1" />
<text x="37.5" y="387.9" font-size="9" text-anchor="middle" fill="#1a1a1a" stroke="#1a1a1a" stroke-width="0.22" >0</text>
<line x1="69.34" y1="375.2" x2="69.34" y2="377.2" stroke="#1f1f1f" stroke-width="1" />
<line x1="101.18" y1="375.2" x2="101.18" y2="378.2" stroke="#1f1f1f" stroke-width="1" />
<text x="101.18" y="387.9" font-size="9" text-anchor="middle" fill="#1a1a1a" stroke="#1a1a1a" stroke-width="0.22" >200</text>
<line x1="133.02" y1="375.2" x2="133.02" y2="377.2" stroke="#1f1f1f" stroke-width="1" />
<line x1="164.86" y1="375.2" x2="164.86" y2="378.2" stroke="#1f1f1f" stroke-width="1" />
<text x="164.86" y="387.9" font-size="9" text-anchor="middle" fill="#1a1a1a" stroke="#1a1a1a" stroke-width="0.22" >400</text>
<line x1="196.7" y1="375.2" x2="196.7" y2="377.2" stroke="#1f1f1f" stroke-width="1" />
<line x1="228.54" y1="375.2" x2="228.54" y2="378.2" stroke="#1f1f1f" stroke-width="1" />
<text x="228.54" y="387.9" font-size="9" text-anchor="middle" fill="#1a1a1a" stroke="#1a1a1a" stroke-width="0.22" >600</text>
<line x1="260.38" y1="375.2" x2="260.38" y2="377.2" stroke="#1f1f1f" stroke-width="1" />
<line x1="292.22" y1="375.2" x2="292.22" y2="378.2" stroke="#1f1f1f" stroke-width="1" />
<text x="292.22" y="387.9" font-size="9" text-anchor="middle" fill="#1a1a1a" stroke="#1a1a1a" stroke-width="0.22" >800</text>
<line x1="324.06" y1="375.2" x2="324.06" y2="377.2" stroke="#1f1f1f" stroke-width="1" />
<line x1="355.9" y1="375.2" x2="355.9" y2="378.2" stroke="#1f1f1f" stroke-width="1" />
<text x="355.9" y="387.9" font-size="9" text-anchor="middle" fill="#1a1a1a" stroke="#1a1a1a" stroke-width="0.22" >1000</text>
<line x1="387.74" y1="375.2" x2="387.74" y2="377.2" stroke="#1f1f1f" stroke-width="1" />
<line x1="419.58" y1="375.2" x2="419.58" y2="378.2" stroke="#1f1f1f" stroke-width="1" />
<text x="419.58" y="387.9" font-size="9" text-anchor="middle" fill="#1a1a1a" stroke="#1a1a1a" stroke-width="0.22" >1200</text>
<line x1="451.42" y1="375.2" x2="451.42" y2="377.2" stroke="#1f1f1f" stroke-width="1" />
<line x1="483.26" y1="375.2" x2="483.26" y2="378.2" stroke="#1f1f1f" stroke-width="1" />
<text x="483.26" y="387.9" font-size="9" text-anchor="middle" fill="#1a1a1a" stroke="#1a1a1a" stroke-width="0.22" >1400</text>
<line x1="515.1" y1="375.2" x2="515.1" y2="377.2" stroke="#1f1f1f" stroke-width="1" />
<line x1="546.94" y1="375.2" x2="546.94" y2="378.2" stroke="#1f1f1f" stroke-width="1" />
<text x="546.94" y="387.9" font-size="9" text-anchor="middle" fill="#1a1a1a" stroke="#1a1a1a" stroke-width="0.22" >1600</text>
<line x1="578.78" y1="375.2" x2="578.78" y2="377.2" stroke="#1f1f1f" stroke-width="1" />
<line x1="610.62" y1="375.2" x2="610.62" y2="378.2" stroke="#1f1f1f" stroke-width="1" />
<text x="610.62" y="387.9" font-size="9" text-anchor="middle" fill="#1a1a1a" stroke="#1a1a1a" stroke-width="0.22" >1800</text>
<line x1="642.46" y1="375.2" x2="642.46" y2="377.2" stroke="#1f1f1f" stroke-width="1" />
<line x1="674.3" y1="375.2" x2="674.3" y2="378.2" stroke="#1f1f1f" stroke-width="1" />
<text x="674.3" y="387.9" font-size="9" text-anchor="middle" fill="#1a1a1a" stroke="#1a1a1a" stroke-width="0.22" >2000</text>
<text x="355.9" y="398.6" font-size="9" text-anchor="middle" fill="#1a1a1a" stroke="#1a1a1a" stroke-width="0.22" >Cycles (n)</text>
<text transform="translate(14.5,275.9) rotate(-90)" font-size="9.3" text-anchor="middle" fill="#1f1f1f" stroke="#1f1f1f" stroke-width="0.3">Transmittance (%)</text>
<line x1="608.8" y1="207.7" x2="622.7" y2="207.7" stroke="#62a2c6" stroke-width="1.6" />
<line x1="608.8" y1="218" x2="622.7" y2="218" stroke="#e8a080" stroke-width="1.6" />
<text x="627.7" y="210.4" font-size="9" fill="#1a1a1a" stroke="#1a1a1a" stroke-width="0.22" >Reusable</text>
<text x="627.7" y="220.7" font-size="9" fill="#1a1a1a" stroke="#1a1a1a" stroke-width="0.22" >Untreated</text>
<polyline points="39.1,569.2 42.13,569.05 45.16,568.85 48.2,568.61 51.23,568.35 54.26,568.07 57.3,567.77 60.33,567.48 63.36,567.2 66.39,566.95 69.42,566.72 72.46,566.51 75.49,566.31 78.52,566.12 81.56,565.93 84.59,565.75 87.62,565.58 90.65,565.42 93.69,565.27 96.72,565.13 99.75,565 102.78,564.88 105.81,564.76 108.85,564.65 111.88,564.55 114.91,564.46 117.94,564.38 120.98,564.32 124.01,564.27 127.04,564.24 130.07,564.23 133.11,564.24 136.14,564.27 139.17,564.32 142.21,564.38 145.24,564.46 148.27,564.55 151.3,564.65 154.34,564.76 157.37,564.88 160.4,565 163.43,565.06 166.47,565.13 169.5,565.2 172.53,565.28 175.56,565.36 178.59,565.44 181.63,565.53 184.66,565.62 187.69,565.71 190.72,565.8 193.76,565.89 196.79,565.98 199.82,566.08 202.85,566.17 205.89,566.26 208.92,566.36 211.95,566.45 214.98,566.54 218.02,566.63 221.05,566.72 224.08,566.8 227.11,566.9 230.15,566.99 233.18,567.09 236.21,567.19 239.25,567.29 242.28,567.39 245.31,567.49 248.34,567.59 251.38,567.68 254.41,567.78 257.44,567.87 260.47,567.96 263.5,568.05 266.54,568.13 269.57,568.2 272.6,568.27 275.63,568.33 278.67,568.39 281.7,568.44" fill="none" stroke="#e8967a" stroke-width="1.3" stroke-linejoin="round" />
<polyline points="39.1,584.29 42.13,584.33 45.16,584.4 48.2,584.47 51.23,584.54 54.26,584.61 57.3,584.67 60.33,584.72 63.36,584.76 66.39,584.79 69.42,584.82 72.46,584.84 75.49,584.86" fill="none" stroke="#e8967a" stroke-width="1.3" stroke-linejoin="round" />
<polyline points="39.1,585.05 42.13,585.05 45.16,585.04 48.2,585.03 51.23,585.02 54.26,585.01 57.3,585 60.33,584.99 63.36,584.97 66.39,584.96 69.42,584.95 72.46,584.93 75.49,584.92 78.52,584.91 81.56,584.9 84.59,584.89 87.62,584.88 90.65,584.87 93.69,584.87 96.72,584.86 99.75,584.86 102.78,584.86 105.81,584.86 108.85,584.87 111.88,584.87 114.91,584.87 117.94,584.88 120.98,584.89 124.01,584.89 127.04,584.9 130.07,584.91 133.11,584.92 136.14,584.93 139.17,584.94 142.21,584.96 145.24,584.97 148.27,584.98 151.3,585 154.34,585.02 157.37,585.03 160.4,585.05 163.43,585.07 166.47,585.1 169.5,585.12 172.53,585.15 175.56,585.17 178.59,585.2 181.63,585.23 184.66,585.26 187.69,585.3 190.72,585.33 193.76,585.36 196.79,585.39 199.82,585.42 202.85,585.46 205.89,585.49 208.92,585.52 211.95,585.55 214.98,585.57 218.02,585.6 221.05,585.63 224.08,585.65 227.11,585.67 230.15,585.7 233.18,585.72 236.21,585.74 239.25,585.77 242.28,585.79 245.31,585.81 248.34,585.83 251.38,585.85 254.41,585.87 257.44,585.89 260.47,585.91 263.5,585.93 266.54,585.94 269.57,585.96 272.6,585.97 275.63,585.99 278.67,586 281.7,586.01" fill="none" stroke="#5aa3d2" stroke-width="1.3" stroke-linejoin="round" />
<polyline points="39.1,511.14 42.13,510.17 45.16,508.83 48.2,507.24 51.23,505.54 54.26,503.88 57.78,502.15 61.3,500.28 64.82,498.39 68.33,496.62 71.85,495.09 75.49,493.6 79.13,492.41 82.77,491.36 86.41,490.32 89.53,489.72 92.65,489.17 95.76,488.63 98.88,488.11 102,487.56 105.12,486.96 108.24,486.31 111.45,485.55 114.65,484.69 117.86,483.79 121.06,482.88 124.27,482.01 127.48,481.23 130.68,480.58 134.32,479.72 137.96,479.1 141.6,478.64 145.24,478.28 148.27,478.15 151.3,478.06 154.34,477.99 157.37,477.95 160.4,477.93 163.43,477.92 166.47,477.91 169.5,477.91 172.53,477.9 175.56,477.88 178.59,477.85 181.63,477.81 184.66,477.79 187.69,477.8 190.72,477.84 193.76,477.94 196.79,478.09 200,478.26 203.22,478.47 206.43,478.71 209.65,478.97 212.86,479.26 216.08,479.57 219.29,479.9 222.51,480.24 225.72,480.6 228.93,480.96 232.17,481.39 235.4,481.87 238.64,482.38 241.87,482.91 245.11,483.45 248.34,483.97 251.58,484.47 254.81,484.94 258.05,485.35 261.43,485.83 264.8,486.27 268.18,486.68 271.56,487.04 274.94,487.36 278.32,487.63 281.7,487.83" fill="none" stroke="#5aa3d2" stroke-width="1.3" stroke-linejoin="round" />
<line x1="130.6" y1="486" x2="130.6" y2="581" stroke="#5aa3d2" stroke-width="0.9" stroke-dasharray="1.2,1.2"/>
<polygon points="130.6,483.3 128.6,488.5 132.6,488.5" fill="#5aa3d2"/>
<polygon points="130.6,583.6 128.6,578.4 132.6,578.4" fill="#5aa3d2"/>
<line x1="135.1" y1="567.5" x2="135.1" y2="580.8" stroke="#e8967a" stroke-width="0.9" stroke-dasharray="1.2,1.2"/>
<polygon points="135.1,565.6 133.3,570 136.9,570" fill="#e8967a"/>
<polygon points="135.1,582.8 133.3,578.4 136.9,578.4" fill="#e8967a"/>
<line x1="128" y1="564.6" x2="138.5" y2="564.6" stroke="#444" stroke-width="1.4" />
<line x1="128" y1="583.8" x2="138.5" y2="583.8" stroke="#444" stroke-width="1.4" />
<rect x="39.1" y="416.1" width="242.6" height="181.3" fill="none" stroke="#1f1f1f" stroke-width="1.2"/>
<line x1="36.1" y1="588.3" x2="39.1" y2="588.3" stroke="#1f1f1f" stroke-width="1" />
<text x="34.1" y="592.2" font-size="11" text-anchor="end" fill="#1a1a1a" stroke="#1a1a1a" stroke-width="0.22" >0</text>
<line x1="37.1" y1="569.2" x2="39.1" y2="569.2" stroke="#1f1f1f" stroke-width="1" />
<line x1="36.1" y1="550.1" x2="39.1" y2="550.1" stroke="#1f1f1f" stroke-width="1" />
<text x="34.1" y="554" font-size="11" text-anchor="end" fill="#1a1a1a" stroke="#1a1a1a" stroke-width="0.22" >20</text>
<line x1="37.1" y1="531" x2="39.1" y2="531" stroke="#1f1f1f" stroke-width="1" />
<line x1="36.1" y1="511.9" x2="39.1" y2="511.9" stroke="#1f1f1f" stroke-width="1" />
<text x="34.1" y="515.8" font-size="11" text-anchor="end" fill="#1a1a1a" stroke="#1a1a1a" stroke-width="0.22" >40</text>
<line x1="37.1" y1="492.8" x2="39.1" y2="492.8" stroke="#1f1f1f" stroke-width="1" />
<line x1="36.1" y1="473.7" x2="39.1" y2="473.7" stroke="#1f1f1f" stroke-width="1" />
<text x="34.1" y="477.6" font-size="11" text-anchor="end" fill="#1a1a1a" stroke="#1a1a1a" stroke-width="0.22" >60</text>
<line x1="37.1" y1="454.6" x2="39.1" y2="454.6" stroke="#1f1f1f" stroke-width="1" />
<line x1="36.1" y1="435.5" x2="39.1" y2="435.5" stroke="#1f1f1f" stroke-width="1" />
<text x="34.1" y="439.4" font-size="11" text-anchor="end" fill="#1a1a1a" stroke="#1a1a1a" stroke-width="0.22" >80</text>
<line x1="37.1" y1="416.4" x2="39.1" y2="416.4" stroke="#1f1f1f" stroke-width="1" />
<line x1="39.1" y1="597.4" x2="39.1" y2="600.4" stroke="#1f1f1f" stroke-width="1" />
<text x="39.1" y="613.5" font-size="11" text-anchor="middle" fill="#1a1a1a" stroke="#1a1a1a" stroke-width="0.22" >400</text>
<line x1="69.42" y1="597.4" x2="69.42" y2="599.4" stroke="#1f1f1f" stroke-width="1" />
<line x1="99.75" y1="597.4" x2="99.75" y2="600.4" stroke="#1f1f1f" stroke-width="1" />
<text x="99.75" y="613.5" font-size="11" text-anchor="middle" fill="#1a1a1a" stroke="#1a1a1a" stroke-width="0.22" >500</text>
<line x1="130.07" y1="597.4" x2="130.07" y2="599.4" stroke="#1f1f1f" stroke-width="1" />
<line x1="160.4" y1="597.4" x2="160.4" y2="600.4" stroke="#1f1f1f" stroke-width="1" />
<text x="160.4" y="613.5" font-size="11" text-anchor="middle" fill="#1a1a1a" stroke="#1a1a1a" stroke-width="0.22" >600</text>
<line x1="190.72" y1="597.4" x2="190.72" y2="599.4" stroke="#1f1f1f" stroke-width="1" />
<line x1="221.05" y1="597.4" x2="221.05" y2="600.4" stroke="#1f1f1f" stroke-width="1" />
<text x="221.05" y="613.5" font-size="11" text-anchor="middle" fill="#1a1a1a" stroke="#1a1a1a" stroke-width="0.22" >700</text>
<line x1="251.38" y1="597.4" x2="251.38" y2="599.4" stroke="#1f1f1f" stroke-width="1" />
<line x1="281.7" y1="597.4" x2="281.7" y2="600.4" stroke="#1f1f1f" stroke-width="1" />
<text x="281.7" y="613.5" font-size="11" text-anchor="middle" fill="#1a1a1a" stroke="#1a1a1a" stroke-width="0.22" >800</text>
<text x="160.9" y="630.3" font-size="11" text-anchor="middle" fill="#1a1a1a" stroke="#1a1a1a" stroke-width="0.22" >Wavelength (nm)</text>
<text transform="translate(15,501.9) rotate(-90)" font-size="11.2" text-anchor="middle" fill="#1f1f1f" stroke="#1f1f1f" stroke-width="0.3">Transmittance (%)</text>
<line x1="46.2" y1="426.3" x2="64.7" y2="426.3" stroke="#5aa3d2" stroke-width="1.4" />
<line x1="46.2" y1="439.9" x2="64.7" y2="439.9" stroke="#e8967a" stroke-width="1.4" />
<text x="67.8" y="430" font-size="11" fill="#1a1a1a" stroke="#1a1a1a" stroke-width="0.22" >Reusable</text>
<text x="67.8" y="443.4" font-size="11" fill="#1a1a1a" stroke="#1a1a1a" stroke-width="0.22" >Untreated</text>
<text x="276.5" y="428.6" font-size="10.3" text-anchor="end" fill="#1a1a1a" stroke="#1a1a1a" stroke-width="0.22" >After 2000 cycles</text>
<text x="144" y="529.5" font-size="11" fill="#5aa3d2" stroke="#5aa3d2" stroke-width="0.1" >ΔT=54%</text>
<text x="144" y="578.1" font-size="11" fill="#e8967a" stroke="#e8967a" stroke-width="0.1" >ΔT=10%</text>
<text x="212.7" y="529.5" font-size="11" fill="#1a1a1a" stroke="#1a1a1a" stroke-width="0.22" >Bleached</text>
<text x="220.3" y="580.8" font-size="11" fill="#1a1a1a" stroke="#1a1a1a" stroke-width="0.22" >Tinted</text>
<polygon points="436.7,448.39 493.2,486.25 477.86,541.31 436.7,572.25 377.38,551.54 372.13,481.7" fill="#d7e5f1" stroke="none" stroke-width="0" />
<polygon points="436.7,499.9 452.84,509 452.84,527.2 436.7,536.3 420.56,527.2 420.56,509" fill="none" stroke="#b4b4b4" stroke-width="0.6" stroke-dasharray="0.9,1.3"/>
<polygon points="436.7,481.7 468.99,499.9 468.99,536.3 436.7,554.5 404.41,536.3 404.41,499.9" fill="none" stroke="#b4b4b4" stroke-width="0.6" stroke-dasharray="0.9,1.3"/>
<polygon points="436.7,463.5 485.13,490.8 485.13,545.4 436.7,572.7 388.27,545.4 388.27,490.8" fill="none" stroke="#b4b4b4" stroke-width="0.6" stroke-dasharray="0.9,1.3"/>
<polygon points="436.7,445.3 501.27,481.7 501.27,554.5 436.7,590.9 372.13,554.5 372.13,481.7" fill="none" stroke="#b4b4b4" stroke-width="0.6" stroke-dasharray="0.9,1.3"/>
<polygon points="436.7,427.1 517.41,472.6 517.41,563.6 436.7,609.1 355.99,563.6 355.99,472.6" fill="none" stroke="#b4b4b4" stroke-width="0.6" stroke-dasharray="0.9,1.3"/>
<line x1="355.99" y1="472.6" x2="517.41" y2="563.6" stroke="#1a1a1a" stroke-width="1.2" />
<line x1="355.99" y1="563.6" x2="517.41" y2="472.6" stroke="#1a1a1a" stroke-width="1.2" />
<line x1="436.7" y1="427.1" x2="436.7" y2="609.1" stroke="#6e6e6e" stroke-width="1.9" />
<text x="435.3" y="503.5" font-size="9.5" text-anchor="end" fill="#1a1a1a" stroke="#1a1a1a" stroke-width="0.22" >20</text>
<text x="435.3" y="485.3" font-size="9.5" text-anchor="end" fill="#1a1a1a" stroke="#1a1a1a" stroke-width="0.22" >40</text>
<text x="435.3" y="467.1" font-size="9.5" text-anchor="end" fill="#1a1a1a" stroke="#1a1a1a" stroke-width="0.22" >60</text>
<text x="435.3" y="448.9" font-size="9.5" text-anchor="end" fill="#1a1a1a" stroke="#1a1a1a" stroke-width="0.22" >80</text>
<text x="435.3" y="430.7" font-size="9.5" text-anchor="end" fill="#1a1a1a" stroke="#1a1a1a" stroke-width="0.22" >100</text>
<text x="438.3" y="539.5" font-size="9.5" fill="#1a1a1a" stroke="#1a1a1a" stroke-width="0.22" >1000</text>
<text x="438.3" y="557.7" font-size="9.5" fill="#1a1a1a" stroke="#1a1a1a" stroke-width="0.22" >2000</text>
<text x="438.3" y="575.9" font-size="9.5" fill="#1a1a1a" stroke="#1a1a1a" stroke-width="0.22" >3000</text>
<text x="438.3" y="594.1" font-size="9.5" fill="#1a1a1a" stroke="#1a1a1a" stroke-width="0.22" >4000</text>
<text x="438.3" y="612.3" font-size="9.5" fill="#1a1a1a" stroke="#1a1a1a" stroke-width="0.22" >5000</text>
<text x="453.34" y="505.6" font-size="9.5" text-anchor="end" fill="#1a1a1a" stroke="#1a1a1a" stroke-width="0.22" >40</text>
<text x="469.49" y="496.5" font-size="9.5" text-anchor="end" fill="#1a1a1a" stroke="#1a1a1a" stroke-width="0.22" >30</text>
<text x="485.63" y="487.4" font-size="9.5" text-anchor="end" fill="#1a1a1a" stroke="#1a1a1a" stroke-width="0.22" >20</text>
<text x="501.77" y="478.3" font-size="9.5" text-anchor="end" fill="#1a1a1a" stroke="#1a1a1a" stroke-width="0.22" >10</text>
<text x="517.91" y="469.2" font-size="9.5" text-anchor="end" fill="#1a1a1a" stroke="#1a1a1a" stroke-width="0.22" >0</text>
<text x="454.04" y="523.2" font-size="9.5" fill="#1a1a1a" stroke="#1a1a1a" stroke-width="0.22" >40</text>
<text x="470.19" y="532.3" font-size="9.5" fill="#1a1a1a" stroke="#1a1a1a" stroke-width="0.22" >30</text>
<text x="486.33" y="541.4" font-size="9.5" fill="#1a1a1a" stroke="#1a1a1a" stroke-width="0.22" >20</text>
<text x="502.47" y="550.5" font-size="9.5" fill="#1a1a1a" stroke="#1a1a1a" stroke-width="0.22" >10</text>
<text x="518.61" y="559.6" font-size="9.5" fill="#1a1a1a" stroke="#1a1a1a" stroke-width="0.22" >0</text>
<text x="419.06" y="518.7" font-size="9.5" text-anchor="end" fill="#1a1a1a" stroke="#1a1a1a" stroke-width="0.22" >30</text>
<text x="402.91" y="509.6" font-size="9.5" text-anchor="end" fill="#1a1a1a" stroke="#1a1a1a" stroke-width="0.22" >40</text>
<text x="386.77" y="500.5" font-size="9.5" text-anchor="end" fill="#1a1a1a" stroke="#1a1a1a" stroke-width="0.22" >50</text>
<text x="370.63" y="491.4" font-size="9.5" text-anchor="end" fill="#1a1a1a" stroke="#1a1a1a" stroke-width="0.22" >60</text>
<text x="354.49" y="482.3" font-size="9.5" text-anchor="end" fill="#1a1a1a" stroke="#1a1a1a" stroke-width="0.22" >70</text>
<text x="423.3" y="535.5" font-size="9.5" fill="#1a1a1a" stroke="#1a1a1a" stroke-width="0.22" >40</text>
<text x="408.5" y="544.4" font-size="9.5" fill="#1a1a1a" stroke="#1a1a1a" stroke-width="0.22" >20</text>
<text x="394" y="552.4" font-size="9.5" fill="#1a1a1a" stroke="#1a1a1a" stroke-width="0.22" >0</text>
<text x="379.2" y="560.5" font-size="9.5" fill="#1a1a1a" stroke="#1a1a1a" stroke-width="0.22" >-20</text>
<text x="364.5" y="569.7" font-size="9.5" fill="#1a1a1a" stroke="#1a1a1a" stroke-width="0.22" >-40</text>
<text x="436.9" y="415.4" font-size="10.8" text-anchor="middle" fill="#1a1a1a" stroke="#1a1a1a" stroke-width="0.22" >ΔT (%)</text>
<text x="526.2" y="464" font-size="11" fill="#1a1a1a" stroke="#1a1a1a" stroke-width="0.22" >t<tspan font-size="7.5" dy="2.5">c</tspan><tspan dy="-2.5"> (s)</tspan></text>
<text x="526.2" y="578.9" font-size="11" fill="#1a1a1a" stroke="#1a1a1a" stroke-width="0.22" >t<tspan font-size="7.5" dy="2.5">b</tspan><tspan dy="-2.5"> (s)</tspan></text>
<text x="441.5" y="628.4" font-size="11" text-anchor="middle" fill="#1a1a1a" stroke="#1a1a1a" stroke-width="0.22" >Cycle numbers (n)</text>
<text x="327.6" y="456.5" font-size="10.8" text-anchor="middle" fill="#1a1a1a" stroke="#1a1a1a" stroke-width="0.22" >Heat</text>
<text x="327.6" y="469.1" font-size="10.8" text-anchor="middle" fill="#1a1a1a" stroke="#1a1a1a" stroke-width="0.22" >resistance</text>
<text x="327.6" y="482" font-size="10.8" text-anchor="middle" fill="#1a1a1a" stroke="#1a1a1a" stroke-width="0.22" >(°C)</text>
<text x="328" y="561.5" font-size="10.8" text-anchor="middle" fill="#1a1a1a" stroke="#1a1a1a" stroke-width="0.22" >Freeze</text>
<text x="328" y="574.3" font-size="10.8" text-anchor="middle" fill="#1a1a1a" stroke="#1a1a1a" stroke-width="0.22" >resistance</text>
<text x="328" y="587.4" font-size="10.8" text-anchor="middle" fill="#1a1a1a" stroke="#1a1a1a" stroke-width="0.22" >(°C)</text>
<rect x="433.7" y="440.3" width="6" height="6" fill="none" stroke="#d9635b" stroke-width="1.0"/>
<polygon points="440.15,444.39 434.15,440.94 434.15,447.84" fill="none" stroke="#a050e0" stroke-width="1.0"/>
<polygon points="433.25,454.4 439.25,450.95 439.25,457.85" fill="none" stroke="#5aa8e8" stroke-width="1.0"/>
<polygon points="436.7,465.13 440.15,459.13 433.25,459.13" fill="none" stroke="#5fd07a" stroke-width="1.0"/>
<polygon points="436.7,464.96 440.15,470.96 433.25,470.96" fill="none" stroke="#e8782a" stroke-width="1.0"/>
<polygon points="436.7,464.51 440.6,468.41 436.7,472.31 432.8,468.41" fill="none" stroke="#e83ee0" stroke-width="1.0"/>
<polygon points="407.86,499.9 401.86,496.45 401.86,503.35" fill="none" stroke="#a050e0" stroke-width="1.0"/>
<circle cx="429.03" cy="513.78" r="3" fill="none" stroke="#c06aa0" stroke-width="1.0"/>
<circle cx="429.03" cy="513.78" r="1.8" fill="none" stroke="#6a78a8" stroke-width="1.0"/>
<polygon points="365.89,559.96 359.89,556.51 359.89,563.41" fill="none" stroke="#a050e0" stroke-width="1.0"/>
<circle cx="410.63" cy="532.8" r="3" fill="none" stroke="#e8782a" stroke-width="1.0"/>
<polygon points="410.63,529.2 411.51,531.58 414.05,531.68 412.06,533.26 412.75,535.71 410.63,534.3 408.51,535.71 409.2,533.26 407.21,531.68 409.75,531.58" fill="#3a9a5a" stroke="#3a9a5a" stroke-width="0.6" />
<polygon points="436.7,559.09 437.58,561.48 440.12,561.58 438.13,563.15 438.82,565.6 436.7,564.19 434.58,565.6 435.27,563.15 433.28,561.58 435.82,561.48" fill="#3a9a5a" stroke="#3a9a5a" stroke-width="0.6" />
<rect x="433.7" y="555.14" width="6" height="6" fill="none" stroke="#666" stroke-width="1.0"/>
<polygon points="436.7,541.5 440.6,545.4 436.7,549.3 432.8,545.4" fill="none" stroke="#e83ee0" stroke-width="1.0"/>
<circle cx="436.7" cy="545.4" r="3" fill="none" stroke="#d9635b" stroke-width="1.0"/>
<circle cx="436.7" cy="533.12" r="3" fill="none" stroke="#e8782a" stroke-width="1.0"/>
<circle cx="436.7" cy="533.12" r="2" fill="none" stroke="#7a80d0" stroke-width="1.0"/>
<polygon points="509.34,473.25 513.24,477.15 509.34,481.05 505.44,477.15" fill="none" stroke="#e83ee0" stroke-width="1.0"/>
<rect x="501.5" y="476.88" width="6" height="6" fill="none" stroke="#d9635b" stroke-width="1.0"/>
<polygon points="503.91,482.16 497.91,478.71 497.91,485.61" fill="none" stroke="#a050e0" stroke-width="1.0"/>
<polygon points="493.79,483.98 499.79,480.53 499.79,487.43" fill="none" stroke="#5aa8e8" stroke-width="1.0"/>
<polygon points="486.74,486.44 490.19,492.44 483.29,492.44" fill="none" stroke="#e8782a" stroke-width="1.0"/>
<circle cx="479.48" cy="493.99" r="3" fill="none" stroke="#8a6a5a" stroke-width="1.0"/>
<polygon points="469.79,495.85 470.67,498.23 473.22,498.33 471.22,499.91 471.91,502.36 469.79,500.95 467.68,502.36 468.37,499.91 466.37,498.33 468.91,498.23" fill="#3a9a5a" stroke="#3a9a5a" stroke-width="0.6" />
<polygon points="502.89,558.86 506.34,552.86 499.44,552.86" fill="none" stroke="#5fd07a" stroke-width="1.0"/>
<polygon points="497.64,548.55 501.54,552.45 497.64,556.35 493.74,552.45" fill="none" stroke="#e83ee0" stroke-width="1.0"/>
<rect x="485.84" y="544.49" width="6" height="6" fill="none" stroke="#d9635b" stroke-width="1.0"/>
<polygon points="468.18,532.25 469.06,534.63 471.6,534.73 469.6,536.31 470.29,538.76 468.18,537.35 466.06,538.76 466.75,536.31 464.75,534.73 467.3,534.63" fill="#3a9a5a" stroke="#3a9a5a" stroke-width="0.6" />
<polygon points="443.72,518.61 447.17,524.61 440.27,524.61" fill="none" stroke="#e8782a" stroke-width="1.0"/>
<polygon points="433.71,518.1 438.91,515.11 438.91,521.09" fill="none" stroke="#5aa8e8" stroke-width="1.0"/>
<circle cx="436.7" cy="518.1" r="2" fill="none" stroke="#7cc043" stroke-width="1.0"/>
<circle cx="436.7" cy="518.1" r="1" fill="#111"/>
<circle cx="436.7" cy="609.1" r="1.2" fill="none" stroke="#7cc043" stroke-width="1.0"/>
<polygon points="436.7,444.34 441.02,451.36 432.38,451.36" fill="#3c44a0"/>
<polygon points="493.2,482.2 497.52,489.22 488.88,489.22" fill="#3c44a0"/>
<polygon points="477.86,537.26 482.18,544.28 473.54,544.28" fill="#3c44a0"/>
<polygon points="436.7,568.2 441.02,575.22 432.38,575.22" fill="#3c44a0"/>
<polygon points="377.38,547.49 381.7,554.51 373.06,554.51" fill="#3c44a0"/>
<polygon points="372.13,477.65 376.45,484.67 367.81,484.67" fill="#3c44a0"/>
<rect x="598.2" y="421.4" width="5.6" height="5.6" fill="none" stroke="#d9635b" stroke-width="1.0"/>
<text x="615.9" y="428.2" font-size="11" fill="#ea8a88" stroke="#ea8a88" stroke-width="0.12">Ref.<tspan font-size="7" dx="2.6" dy="-3.3" stroke-width="0">5</tspan></text>
<circle cx="601" cy="442.5" r="2.8" fill="none" stroke="#7cc043" stroke-width="1.0"/>
<text x="615.9" y="446.5" font-size="11" fill="#ea8a88" stroke="#ea8a88" stroke-width="0.12">Ref.<tspan font-size="7" dx="2.6" dy="-3.3" stroke-width="0">32</tspan></text>
<polygon points="601,457.08 604.22,462.68 597.78,462.68" fill="none" stroke="#e8782a" stroke-width="1.0"/>
<text x="615.9" y="464.3" font-size="11" fill="#ea8a88" stroke="#ea8a88" stroke-width="0.12">Ref.<tspan font-size="7" dx="2.6" dy="-3.3" stroke-width="0">33</tspan></text>
<polygon points="601,482.62 604.22,477.02 597.78,477.02" fill="none" stroke="#5fd07a" stroke-width="1.0"/>
<text x="615.9" y="483.4" font-size="11" fill="#ea8a88" stroke="#ea8a88" stroke-width="0.12">Ref.<tspan font-size="7" dx="2.6" dy="-3.3" stroke-width="0">34</tspan></text>
<polygon points="601,493.16 604.64,496.8 601,500.44 597.36,496.8" fill="none" stroke="#e83ee0" stroke-width="1.0"/>
<text x="615.9" y="500.8" font-size="11" fill="#ea8a88" stroke="#ea8a88" stroke-width="0.12">Ref.<tspan font-size="7" dx="2.6" dy="-3.3" stroke-width="0">36</tspan></text>
<polygon points="597.78,514.7 603.38,511.48 603.38,517.92" fill="none" stroke="#5aa8e8" stroke-width="1.0"/>
<text x="615.9" y="518.7" font-size="11" fill="#ea8a88" stroke="#ea8a88" stroke-width="0.12">Ref.<tspan font-size="7" dx="2.6" dy="-3.3" stroke-width="0">40</tspan></text>
<polygon points="604.22,533 598.62,529.78 598.62,536.22" fill="none" stroke="#a050e0" stroke-width="1.0"/>
<text x="615.9" y="537" font-size="11" fill="#ea8a88" stroke="#ea8a88" stroke-width="0.12">Ref.<tspan font-size="7" dx="2.6" dy="-3.3" stroke-width="0">30</tspan></text>
<circle cx="601" cy="551.5" r="2.8" fill="none" stroke="#8a6a5a" stroke-width="1.0"/>
<text x="615.9" y="555.5" font-size="11" fill="#4a56a6" stroke="#4a56a6" stroke-width="0.12">Ref.<tspan font-size="7" dx="2.6" dy="-3.3" stroke-width="0">37</tspan></text>
<polygon points="601,566.14 601.82,568.37 604.2,568.46 602.33,569.93 602.97,572.22 601,570.9 599.03,572.22 599.67,569.93 597.8,568.46 600.18,568.37" fill="#3a9a5a" stroke="#3a9a5a" stroke-width="0.6" />
<text x="615.9" y="573.5" font-size="11" fill="#4a56a6" stroke="#4a56a6" stroke-width="0.12">Ref.<tspan font-size="7" dx="2.6" dy="-3.3" stroke-width="0">39</tspan></text>
<polygon points="601,582.3 605.48,589.58 596.52,589.58" fill="#3c44a0"/>
<text x="616" y="589.8" font-size="11" fill="#4a56a6" stroke="#4a56a6" stroke-width="0.12">This work</text>
<text x="601.2" y="612.1" font-size="11" fill="#ea8a88" stroke="#ea8a88" stroke-width="0.12">Aqueous</text>
<text x="597.6" y="627" font-size="11" fill="#4a56a6" stroke="#4a56a6" stroke-width="0.12">Quasi-solid</text>
<circle cx="46.9" cy="21.2" r="2.8" fill="#3de83a"/>
<line x1="51.1" y1="21.2" x2="52.9" y2="21.2" stroke="#3de83a" stroke-width="0.9" />
<line x1="49.87" y1="24.17" x2="51.14" y2="25.44" stroke="#3de83a" stroke-width="0.9" />
<line x1="46.9" y1="25.4" x2="46.9" y2="27.2" stroke="#3de83a" stroke-width="0.9" />
<line x1="43.93" y1="24.17" x2="42.66" y2="25.44" stroke="#3de83a" stroke-width="0.9" />
<line x1="42.7" y1="21.2" x2="40.9" y2="21.2" stroke="#3de83a" stroke-width="0.9" />
<line x1="43.93" y1="18.23" x2="42.66" y2="16.96" stroke="#3de83a" stroke-width="0.9" />
<line x1="46.9" y1="17" x2="46.9" y2="15.2" stroke="#3de83a" stroke-width="0.9" />
<line x1="49.87" y1="18.23" x2="51.14" y2="16.96" stroke="#3de83a" stroke-width="0.9" />
<circle cx="273.8" cy="20.9" r="3" fill="#c4393c"/>
<line x1="278.2" y1="20.9" x2="279.9" y2="20.9" stroke="#c4393c" stroke-width="0.9" />
<line x1="276.91" y1="24.01" x2="278.11" y2="25.21" stroke="#c4393c" stroke-width="0.9" />
<line x1="273.8" y1="25.3" x2="273.8" y2="27" stroke="#c4393c" stroke-width="0.9" />
<line x1="270.69" y1="24.01" x2="269.49" y2="25.21" stroke="#c4393c" stroke-width="0.9" />
<line x1="269.4" y1="20.9" x2="267.7" y2="20.9" stroke="#c4393c" stroke-width="0.9" />
<line x1="270.69" y1="17.79" x2="269.49" y2="16.59" stroke="#c4393c" stroke-width="0.9" />
<line x1="273.8" y1="16.5" x2="273.8" y2="14.8" stroke="#c4393c" stroke-width="0.9" />
<line x1="276.91" y1="17.79" x2="278.11" y2="16.59" stroke="#c4393c" stroke-width="0.9" />
<polygon points="503.81,20.4 500,22.6 496.19,20.4 496.19,16 500,13.8 503.81,16" fill="#9d90e2" stroke="none" stroke-width="0" />
<line x1="500" y1="21.2" x2="500" y2="15.2" stroke="#e8e4fa" stroke-width="0.7" />
<line x1="497.4" y1="19.7" x2="502.6" y2="16.7" stroke="#e8e4fa" stroke-width="0.7" />
<line x1="497.4" y1="16.7" x2="502.6" y2="19.7" stroke="#e8e4fa" stroke-width="0.7" />
<text x="0.3" y="16" font-size="21" fill="#111" stroke="#111" stroke-width="0.45">a</text>
<text x="230.2" y="16" font-size="20" fill="#111" stroke="#111" stroke-width="0.45">b</text>
<text x="458.4" y="15.6" font-size="21.5" fill="#111" stroke="#111" stroke-width="0.45">c</text>
<text x="0.8" y="199.5" font-size="20" fill="#111" stroke="#111" stroke-width="0.45">d</text>
<text x="1.2" y="419" font-size="20" fill="#111" stroke="#111" stroke-width="0.45">e</text>
<text x="298.2" y="424.5" font-size="20" fill="#111" stroke="#111" stroke-width="0.45">f</text>
</svg></body></html>
